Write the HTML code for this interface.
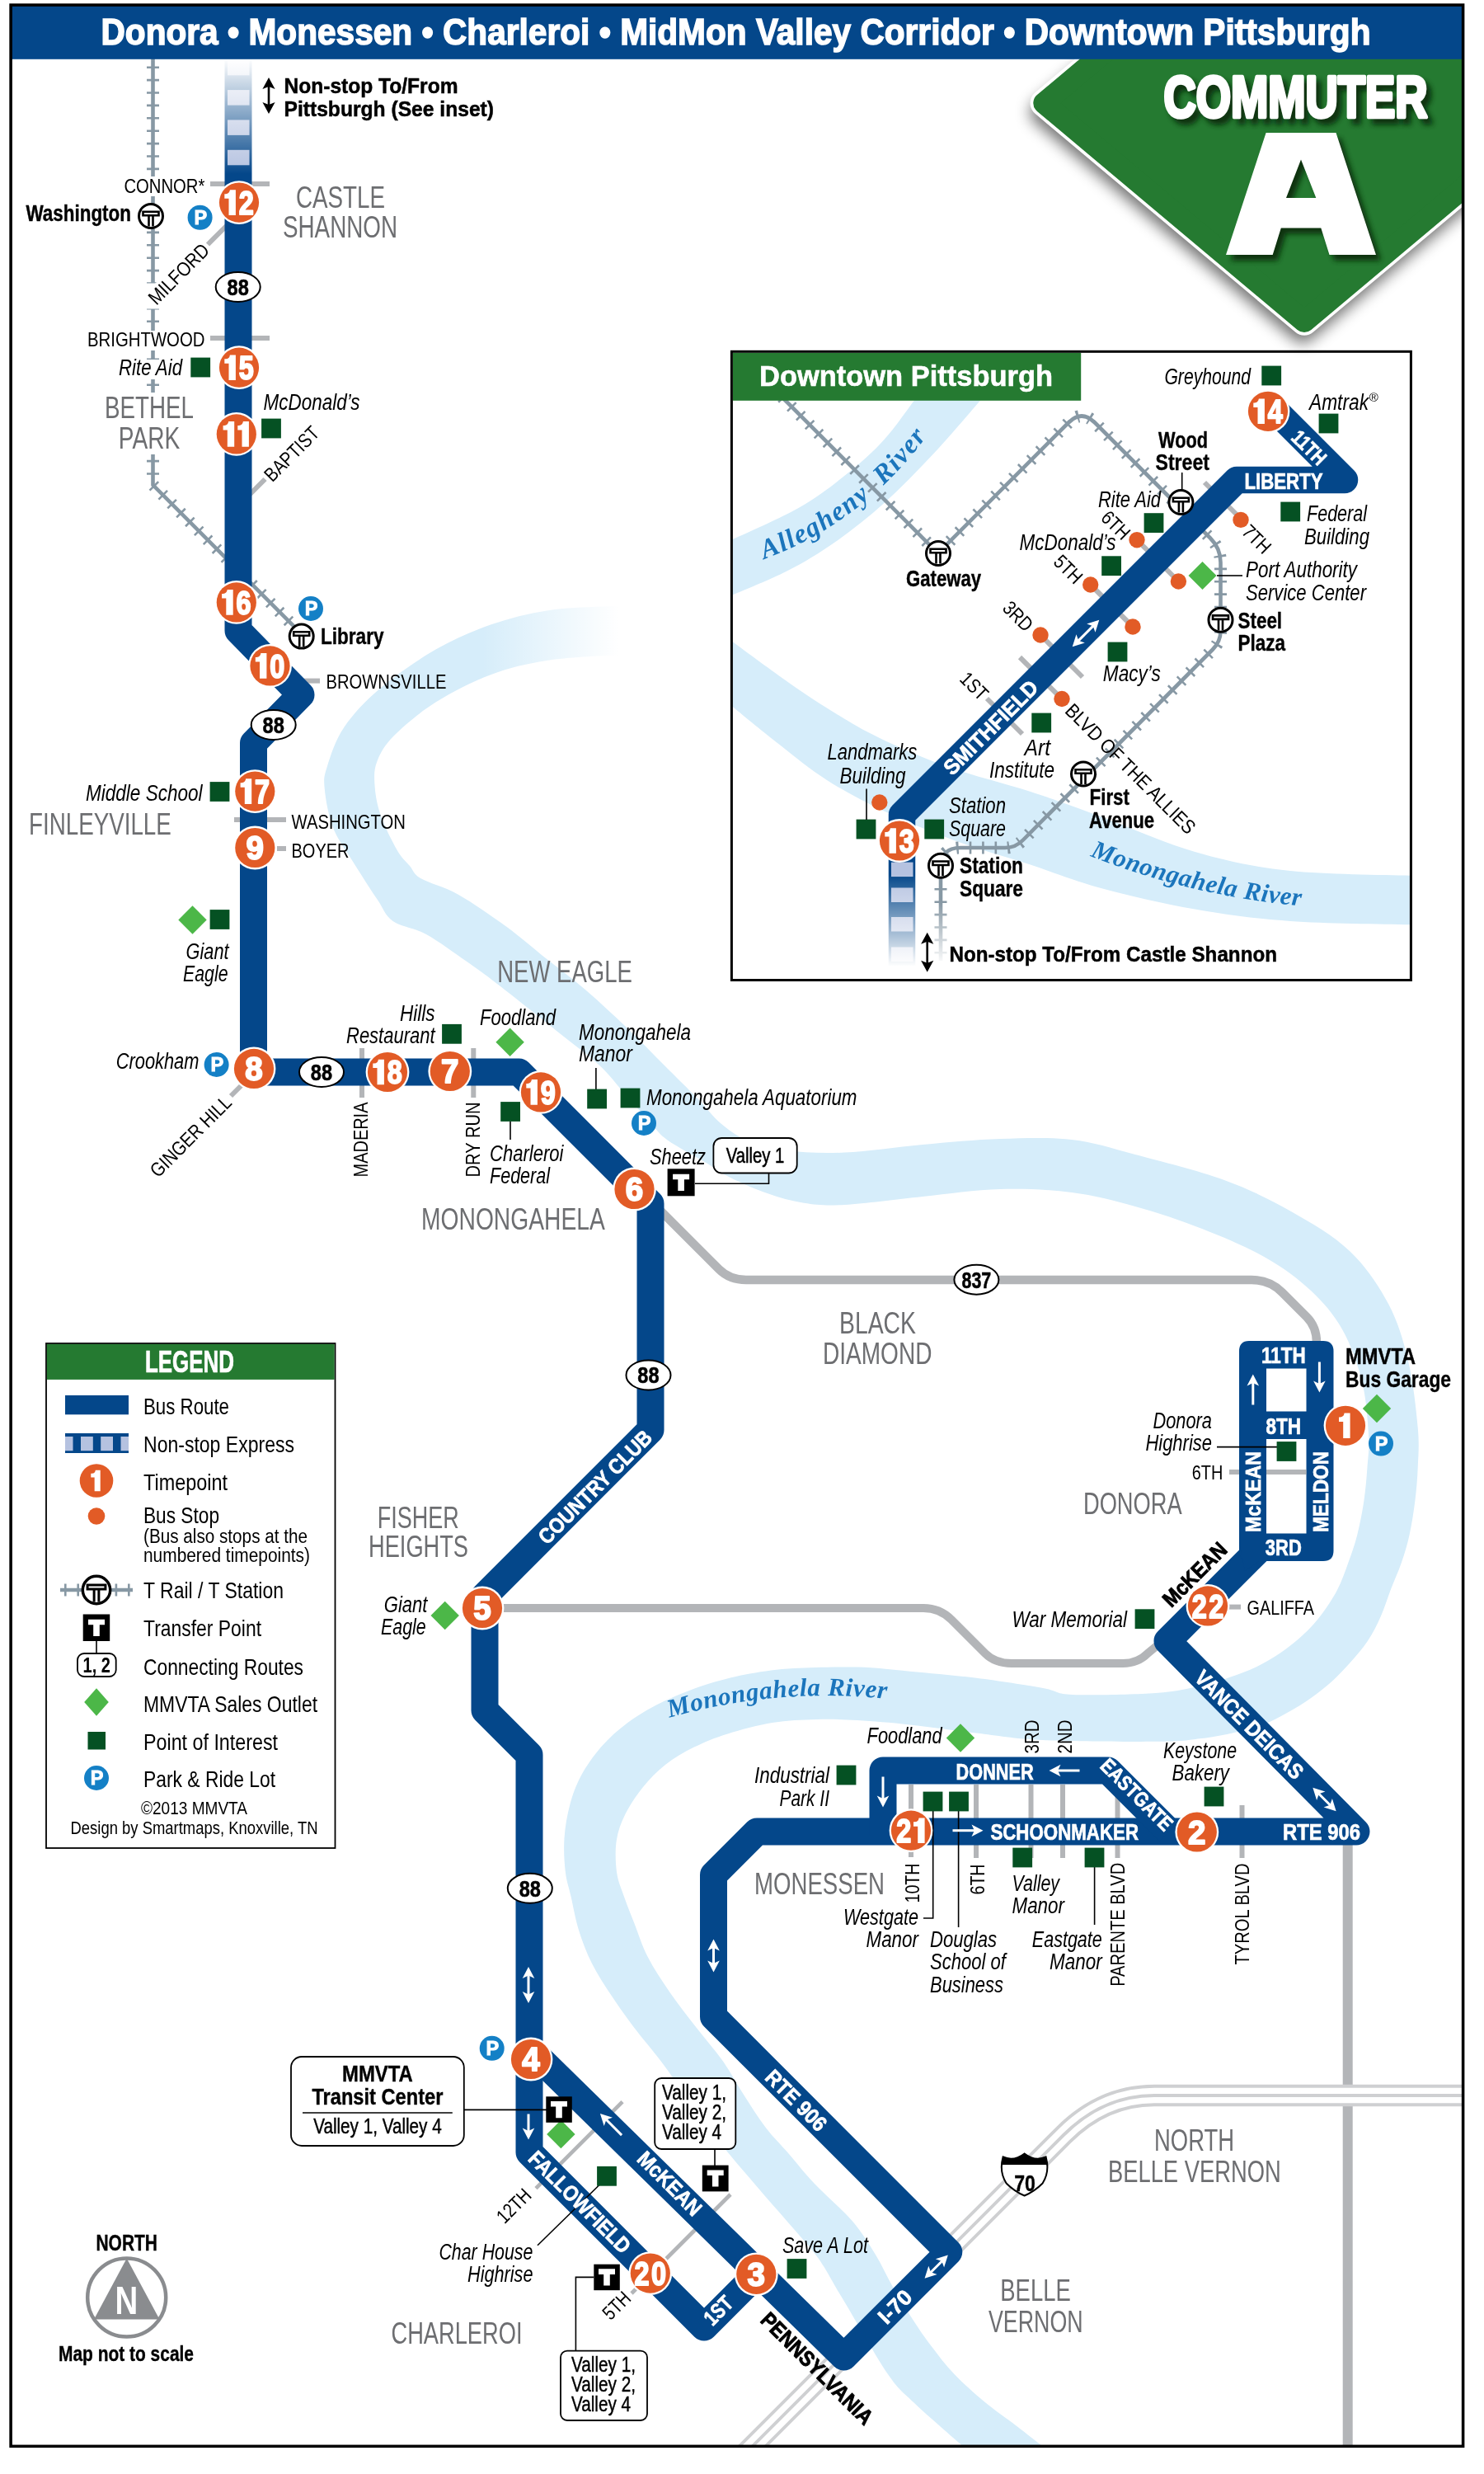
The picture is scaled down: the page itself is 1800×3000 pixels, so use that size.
<!DOCTYPE html>
<html><head><meta charset="utf-8"><title>Commuter A</title>
<style>html,body{margin:0;padding:0;background:#fff}svg{display:block;will-change:transform}text{white-space:pre}</style>
</head><body>
<svg width="1800" height="3000" viewBox="0 0 1800 3000">
<defs>
<linearGradient id="fadeR" x1="0" x2="1" y1="0" y2="0"><stop offset="0" stop-color="#fff" stop-opacity="0"/><stop offset="1" stop-color="#fff" stop-opacity="1"/></linearGradient>
<linearGradient id="fadeUp" x1="0" x2="0" y1="1" y2="0"><stop offset="0" stop-color="#fff" stop-opacity="0"/><stop offset="1" stop-color="#fff" stop-opacity="1"/></linearGradient>
<linearGradient id="fadeDn" x1="0" x2="0" y1="0" y2="1"><stop offset="0" stop-color="#fff" stop-opacity="0"/><stop offset="1" stop-color="#fff" stop-opacity="1"/></linearGradient>
<filter id="sh" x="-20%" y="-20%" width="140%" height="150%"><feGaussianBlur stdDeviation="9"/></filter>
<filter id="sh2" x="-20%" y="-20%" width="140%" height="140%"><feGaussianBlur stdDeviation="3"/></filter>
<clipPath id="frame"><rect x="13.5" y="71" width="1760" height="2894"/></clipPath>
<clipPath id="insetclip"><rect x="888" y="427.5" width="823" height="760.5"/></clipPath>
</defs>
<rect width="1800" height="3000" fill="#fff"/>
<g clip-path="url(#frame)">
<path d="M790,735 C780.1,735.1 751.7,734.5 730.6,735.4 C709.5,736.3 685.7,736.8 663.2,740.4 C640.7,744 618.2,749.4 595.8,757.3 C573.3,765.2 551,774.7 528.5,787.6 C506,800.5 479.5,819.1 461,834.8 C442.5,850.5 428,866.3 417.3,882 C406.6,897.7 400.9,916.7 397,929 C393.1,941.3 392.6,943.6 393.7,956 C394.8,968.4 398.2,988.6 403.8,1003.2 C409.4,1017.8 418.4,1029.1 427.4,1043.7 C436.4,1058.3 449.5,1078.6 457.7,1090.8 C465.9,1103 466.7,1110 476.6,1117 C486.5,1124 502.2,1124.9 517,1133 C531.8,1141.1 551.5,1155.9 565.5,1165.6 C579.5,1175.3 587.5,1181.2 601,1191.4 C614.5,1201.6 633.4,1216.7 646.4,1227 C659.4,1237.3 665.4,1242.3 678.8,1253 C692.2,1263.7 713.8,1279.6 726.7,1291.4 C739.6,1303.2 745.5,1312.2 756,1324 C766.5,1335.8 780.5,1352.3 789.4,1362 C798.3,1371.7 798.4,1374.4 809.6,1382.4 C820.8,1390.4 843.8,1402.4 856.5,1410 C869.2,1417.6 873.6,1421.8 886,1428 C898.4,1434.2 915.8,1441.9 930.6,1447 C945.4,1452.1 959.4,1456.4 975,1458.7 C990.6,1461 1000.5,1462.3 1024.5,1461 C1048.5,1459.7 1087.6,1454.2 1119,1451 C1150.4,1447.8 1182.8,1442.8 1213,1442 C1243.2,1441.2 1272.7,1442.5 1300,1446 C1327.3,1449.5 1350.7,1455.7 1377,1463 C1403.3,1470.3 1431.7,1479.7 1458,1490 C1484.3,1500.3 1513,1512.5 1535,1525 C1557,1537.5 1574.5,1550.5 1590,1565 C1605.5,1579.5 1617.7,1593.7 1628,1612 C1638.3,1630.3 1646.7,1653.7 1652,1675 C1657.3,1696.3 1658.9,1722.5 1660,1740 C1661.1,1757.5 1659.4,1766.6 1658.4,1780 C1657.5,1793.4 1656.3,1806.9 1654.3,1820.4 C1652.3,1833.9 1649.4,1848.5 1646.3,1860.9 C1643.2,1873.3 1639.5,1883.4 1635.5,1894.6 C1631.5,1905.8 1627.7,1917.1 1622,1928 C1616.3,1938.9 1608.2,1950.9 1601.2,1960 C1594.2,1969.1 1588.1,1975.5 1580.2,1982.8 C1572.3,1990.1 1563.3,1997.4 1553.9,2003.8 C1544.5,2010.2 1534.2,2016.3 1524,2021.3 C1513.8,2026.3 1503.7,2029.8 1492.6,2033.6 C1481.5,2037.4 1472.6,2040.8 1457.5,2044 C1442.4,2047.2 1428.1,2051.2 1402,2053 C1375.9,2054.8 1323.8,2056 1301,2055 C1278.2,2054 1284.4,2050.4 1265,2047 C1245.6,2043.6 1211.3,2038.2 1184.4,2034.8 C1157.5,2031.4 1127.6,2028.9 1103.5,2026.7 C1079.4,2024.5 1063.3,2022.2 1040,2021.6 C1016.7,2021 985.2,2021.7 963.5,2023 C941.8,2024.3 927.5,2026.3 909.5,2029.6 C891.5,2032.9 873.6,2037.2 855.6,2043 C837.6,2048.8 817.4,2057 801.7,2064.7 C786,2072.4 773.4,2080 761.3,2089 C749.2,2098 738.4,2107.8 729,2118.6 C719.6,2129.4 711,2141.9 704.7,2153.6 C698.4,2165.3 694.6,2176.1 691.2,2188.7 C687.8,2201.3 685.4,2215.5 684.5,2229 C683.6,2242.5 684.4,2257.7 685.8,2269.5 C687.1,2281.3 689.9,2288.2 692.6,2300 C695.3,2311.8 697.8,2326.9 702,2340.4 C706.2,2353.9 711.3,2367.6 718,2381 C724.7,2394.4 733.8,2408 742.4,2421 C751,2434 759.5,2445.9 769.4,2459 C779.3,2472.1 789.9,2483.8 801.7,2499.5 C813.5,2515.2 827.3,2535.6 840,2553 C852.7,2570.4 864.3,2586.8 878,2604 C891.7,2621.2 908,2639.6 922,2656 C936,2672.4 950.4,2688.4 962.3,2702.3 C974.2,2716.2 983.5,2725.6 993.3,2739.5 C1003.1,2753.4 1007.2,2762.8 1021.2,2786 C1035.2,2809.2 1062.5,2857.8 1077,2879 C1091.5,2900.2 1097.7,2902.7 1108,2913 C1118.3,2923.3 1129.7,2932.7 1139,2941 C1148.3,2949.3 1154.5,2954.5 1163.8,2962.7 C1173.1,2970.9 1189.8,2985.4 1195,2990 L1295,2990 C1289.2,2985.4 1270.4,2970.9 1259.9,2962.7 C1249.4,2954.5 1242.8,2949.3 1232,2941 C1221.2,2932.7 1207.2,2923.3 1194.8,2913 C1182.4,2902.7 1168.4,2890.3 1157.6,2879 C1146.8,2867.7 1138,2855.8 1129.7,2844.9 C1121.4,2834.1 1115.8,2825.8 1108,2813.9 C1100.2,2802 1091,2787 1083.2,2773.6 C1075.5,2760.2 1069.8,2746.7 1061.5,2733.3 C1053.2,2719.9 1045.8,2707.2 1033.6,2693 C1021.3,2678.8 1000.8,2661.5 988,2648 C975.2,2634.5 966.8,2623.3 957,2612 C947.2,2600.7 938.2,2592.3 929,2580.3 C919.8,2568.3 910.7,2553.5 902,2540 C893.3,2526.5 886.5,2513 877,2499.5 C867.5,2486 855.6,2472.9 844.9,2459 C834.1,2445.1 822.4,2430.4 812.5,2416 C802.6,2401.6 792.8,2386.8 785.6,2372.8 C778.4,2358.9 774.2,2344.4 769.4,2332.3 C764.6,2320.2 760.6,2310.4 757,2300 C753.4,2289.6 749.5,2281.4 748,2270 C746.5,2258.6 746,2243.6 747.8,2231.8 C749.6,2220.1 753.2,2210.3 758.6,2199.5 C764,2188.7 771.9,2176.9 780,2167 C788.1,2157.1 796.7,2148.1 807,2140 C817.3,2131.9 829.4,2124.9 842,2118.6 C854.6,2112.3 866.9,2107.3 882.6,2102.4 C898.4,2097.5 918.5,2091.9 936.5,2089 C954.5,2086.1 973.1,2085.5 990.4,2085 C1007.6,2084.5 1021.1,2084.9 1040,2086 C1058.8,2087.1 1079.5,2088.8 1103.5,2091.4 C1127.5,2094 1157.1,2098.4 1184,2101.5 C1210.9,2104.6 1227.8,2108.3 1265,2110 C1302.2,2111.7 1374.9,2112.1 1407,2111.8 C1439.1,2111.5 1443.2,2109.6 1457.5,2108 C1471.8,2106.4 1480.9,2104.5 1492.6,2102 C1504.3,2099.5 1517.4,2096.5 1527.6,2093 C1537.8,2089.5 1544.6,2085.8 1553.9,2080.9 C1563.2,2076 1574.1,2069.8 1583.7,2063.4 C1593.3,2057 1603,2049.9 1611.7,2042.3 C1620.5,2034.7 1628.3,2026.5 1636.2,2017.8 C1644.1,2009 1652.6,1999.4 1659,1989.8 C1665.4,1980.2 1670.2,1970.3 1674.8,1960 C1679.4,1949.7 1682.5,1938.9 1686.7,1928 C1690.9,1917.1 1696.2,1905.8 1700,1894.6 C1703.8,1883.4 1706.9,1873.3 1709.6,1860.9 C1712.3,1848.5 1714.6,1833.9 1716.3,1820.4 C1718,1806.9 1719.1,1794.9 1719.7,1780 C1720.3,1765.1 1721.7,1752.7 1719.7,1731 C1717.8,1709.3 1714,1675 1708,1650 C1702,1625 1695.8,1603.2 1684,1581 C1672.2,1558.8 1656.7,1535.7 1637,1517 C1617.3,1498.3 1591.3,1483.3 1566,1469 C1540.7,1454.7 1516.5,1442.5 1485,1431 C1453.5,1419.5 1407.8,1408.2 1377,1400 C1346.2,1391.8 1327.3,1385.2 1300,1382 C1272.7,1378.8 1243.2,1380 1213,1381 C1182.8,1382 1150.4,1385.2 1119,1388 C1087.6,1390.8 1052,1396.4 1024.5,1397.6 C997,1398.8 973.7,1397.6 953.8,1395 C933.9,1392.4 918.3,1387.5 905,1382 C891.7,1376.5 883.8,1370.3 874,1362 C864.2,1353.7 857.5,1343.8 846,1332 C834.5,1320.2 819.3,1305.3 805,1291 C790.7,1276.7 775.7,1261 760,1246 C744.3,1231 727.3,1215 711,1201 C694.7,1187 678.2,1174.9 662,1162 C645.8,1149.1 631.7,1136.4 614,1123.5 C596.3,1110.6 573,1094.4 555.8,1084.7 C538.6,1075 520.4,1071.1 510.6,1065.3 C500.8,1059.5 501.9,1055.8 497,1050 C492.1,1044.2 487.3,1040.8 481.3,1030.2 C475.3,1019.6 465.5,999.9 461,986.4 C456.5,972.9 454.9,960 454.3,949.3 C453.8,938.6 453.8,931.9 457.7,922.4 C461.6,912.9 466.2,903.8 478,892 C489.8,880.2 508.9,863.9 528.5,851.6 C548.1,839.3 573.3,826.4 595.8,818 C618.2,809.6 637.9,805 663.2,801 C688.5,797 726.4,795.5 747.5,794.3 C768.6,793.1 782.9,794 790,794Z" fill="#d6edfa"/>
<rect x="585" y="725" width="165" height="110" fill="url(#fadeR)"/>
<rect x="749" y="725" width="50" height="110" fill="#fff"/>
<path d="M1634.7,2221 L1634.7,2980" stroke="#b3b5b8" stroke-width="12" fill="none"/>
<path d="M884,2995 L1290,2589 Q1338,2541 1400,2541 L1790,2541" stroke="#cfd0d2" stroke-width="26.5" fill="none"/>
<path d="M884,2995 L1290,2589 Q1338,2541 1400,2541 L1790,2541" stroke="#fff" stroke-width="18.7" fill="none"/>
<path d="M884,2995 L1290,2589 Q1338,2541 1400,2541 L1790,2541" stroke="#cfd0d2" stroke-width="3.9" fill="none"/>
<path d="M795,1462 L872,1539 Q885,1552 905,1552 L1518,1552 Q1540,1552 1555,1567 L1585,1597 Q1597,1609 1597,1628 L1597,1650" stroke="#b3b5b8" stroke-width="10.4" fill="none"/>
<path d="M585,1950 L1120,1950 Q1140,1950 1154,1964 L1195,2005 Q1207,2017 1227,2017 L1362,2017 Q1380,2017 1392,2005 L1420,1982" stroke="#b3b5b8" stroke-width="10" fill="none"/>
<path d="M185.5,60 L185.5,588 L366,769" stroke="#8798a4" stroke-width="4.6" fill="none" />
<path d="M185.5,60 L185.5,588 L366,769" stroke="#8798a4" stroke-width="15" stroke-dasharray="2.6 12.8" stroke-dashoffset="-5" fill="none" />
<rect x="148" y="214" width="104" height="24" fill="#fff"/>
<rect x="104" y="401" width="148" height="24" fill="#fff"/>
<rect x="172" y="436" width="50" height="24" fill="#fff"/>
<path d="M180,352 L190,362 L258,294 L248,284 Z" fill="#fff"/>
<rect x="174" y="343.5" width="24" height="31" fill="#fff"/>
<rect x="125" y="476" width="115" height="75" fill="#fff"/>
<path d="M255,223 L327,223" stroke="#b3b5b8" stroke-width="6" fill="none"/>
<path d="M252,296.5 L275,273.5" stroke="#b3b5b8" stroke-width="6" fill="none"/>
<path d="M255,410 L327,410" stroke="#b3b5b8" stroke-width="6" fill="none"/>
<path d="M303,599.5 L321.5,581" stroke="#b3b5b8" stroke-width="6" fill="none"/>
<path d="M364,825.6 L388,825.6" stroke="#b3b5b8" stroke-width="6" fill="none"/>
<path d="M284,994 L347,994" stroke="#b3b5b8" stroke-width="6" fill="none"/>
<path d="M336,1029 L347,1029" stroke="#b3b5b8" stroke-width="6" fill="none"/>
<path d="M280,1329 L296,1313" stroke="#b3b5b8" stroke-width="6" fill="none"/>
<path d="M439,1271 L439,1331" stroke="#b3b5b8" stroke-width="6" fill="none"/>
<path d="M574.3,1271 L574.3,1331" stroke="#b3b5b8" stroke-width="6" fill="none"/>
<path d="M1491,1785 L1585,1785" stroke="#b3b5b8" stroke-width="6" fill="none"/>
<path d="M1491,1948.6 L1505,1948.6" stroke="#b3b5b8" stroke-width="6" fill="none"/>
<path d="M1105,2164 L1105,2252" stroke="#b3b5b8" stroke-width="6" fill="none"/>
<path d="M1184,2164 L1184,2253" stroke="#b3b5b8" stroke-width="6" fill="none"/>
<path d="M1250.5,2164 L1250.5,2253" stroke="#b3b5b8" stroke-width="6" fill="none"/>
<path d="M1289,2164 L1289,2253" stroke="#b3b5b8" stroke-width="6" fill="none"/>
<path d="M1355.5,2172 L1355.5,2253" stroke="#b3b5b8" stroke-width="6" fill="none"/>
<path d="M1506.5,2189 L1506.5,2253" stroke="#b3b5b8" stroke-width="6" fill="none"/>
<path d="M755,2548.7 L650,2653.7" stroke="#b3b5b8" stroke-width="4.6" fill="none"/>
<path d="M886,2661 L800,2747" stroke="#b3b5b8" stroke-width="4.6" fill="none"/>
<path d="M775,2772 L766,2781" stroke="#b3b5b8" stroke-width="4.6" fill="none"/>
<path d="M289,60 L289,764.8 L365,842.5 L307.5,901 L307.5,1300 L629.5,1300 L789,1459.5 L789,1461 L789,1734 L588,1935 L588,2074 L642,2128 L642,2610 L854,2822 L920,2756" stroke="#04478a" stroke-width="33" fill="none" stroke-linejoin="round" stroke-linecap="butt"/>
<path d="M642,2484 L1023.5,2858 L1150.8,2730.8 L865.5,2445.5 L865.5,2273.5 L918,2221 L1645,2221 L1416,1990 L1527,1879" stroke="#04478a" stroke-width="33" fill="none" stroke-linejoin="round" stroke-linecap="butt"/>
<path d="M1071,2225 L1071,2147 L1344,2147 L1418,2221" stroke="#04478a" stroke-width="33" fill="none" stroke-linejoin="round" stroke-linecap="butt"/>
<path d="M1515,1626 H1605 Q1617.5,1626 1617.5,1638.5 V1880.5 Q1617.5,1893 1605,1893 H1515.5 Q1503,1893 1503,1880.5 V1638.5 Q1503,1626 1515,1626 Z M1536,1659.5 V1711.5 H1584.5 V1659.5 Z M1536,1745 V1859.5 H1584.5 V1745 Z" fill="#04478a" fill-rule="evenodd"/>
<path d="M1536,1785 L1584.5,1785" stroke="#b3b5b8" stroke-width="6" fill="none"/>
<path d="M1503,1870 L1527,1870 L1527,1893 L1510,1905 Z" fill="#04478a"/>
<rect x="276" y="72.8" width="26.5" height="18.5" fill="#b5c2e0"/>
<rect x="276" y="109.1" width="26.5" height="18.5" fill="#b5c2e0"/>
<rect x="276" y="145.4" width="26.5" height="18.5" fill="#b5c2e0"/>
<rect x="276" y="181.8" width="26.5" height="18.5" fill="#b5c2e0"/>
<rect x="270" y="71" width="38" height="140" fill="url(#fadeUp)"/>
</g>
<g transform="translate(326,116) rotate(90)"><path d="M-11.5,0 H11.5" stroke="#000" stroke-width="2.6" fill="none"/>
<path d="M22,0 L8,-7.6 L11,0 L8,7.6 Z" fill="#000"/>
<path d="M-22,0 L-8,-7.6 L-11,0 L-8,7.6 Z" fill="#000"/>
</g>
<text transform="translate(344.5,112.8)" font-family='"Liberation Sans", sans-serif' font-size="26.5" font-weight="bold" font-style="normal" fill="#000" text-anchor="start" textLength="211" lengthAdjust="spacingAndGlyphs" stroke="#000" stroke-width="0.5">Non-stop To/From</text>
<text transform="translate(344.5,140.7)" font-family='"Liberation Sans", sans-serif' font-size="26.5" font-weight="bold" font-style="normal" fill="#000" text-anchor="start" textLength="254.5" lengthAdjust="spacingAndGlyphs" stroke="#000" stroke-width="0.5">Pittsburgh (See inset)</text>
<text transform="translate(150.4,233.5)" font-family='"Liberation Sans", sans-serif' font-size="24" font-weight="normal" font-style="normal" fill="#000" text-anchor="start" textLength="98" lengthAdjust="spacingAndGlyphs">CONNOR*</text>
<text transform="translate(216.5,332) rotate(-45)" y="8.6" font-family='"Liberation Sans", sans-serif' font-size="24" font-weight="normal" font-style="normal" fill="#000" text-anchor="middle" textLength="93" lengthAdjust="spacingAndGlyphs">MILFORD</text>
<text transform="translate(106,420)" font-family='"Liberation Sans", sans-serif' font-size="24" font-weight="normal" font-style="normal" fill="#000" text-anchor="start" textLength="142.5" lengthAdjust="spacingAndGlyphs">BRIGHTWOOD</text>
<text transform="translate(353.5,550) rotate(-45)" y="8.6" font-family='"Liberation Sans", sans-serif' font-size="24" font-weight="normal" font-style="normal" fill="#000" text-anchor="middle" textLength="83" lengthAdjust="spacingAndGlyphs">BAPTIST</text>
<text transform="translate(395.4,835.3)" font-family='"Liberation Sans", sans-serif' font-size="24" font-weight="normal" font-style="normal" fill="#000" text-anchor="start" textLength="146" lengthAdjust="spacingAndGlyphs">BROWNSVILLE</text>
<text transform="translate(353.5,1004.5)" font-family='"Liberation Sans", sans-serif' font-size="24" font-weight="normal" font-style="normal" fill="#000" text-anchor="start" textLength="138.5" lengthAdjust="spacingAndGlyphs">WASHINGTON</text>
<text transform="translate(353.5,1039.7)" font-family='"Liberation Sans", sans-serif' font-size="24" font-weight="normal" font-style="normal" fill="#000" text-anchor="start" textLength="70" lengthAdjust="spacingAndGlyphs">BOYER</text>
<text transform="translate(231,1377.7) rotate(-45)" y="8.6" font-family='"Liberation Sans", sans-serif' font-size="24" font-weight="normal" font-style="normal" fill="#000" text-anchor="middle" textLength="128" lengthAdjust="spacingAndGlyphs">GINGER HILL</text>
<text transform="translate(437.8,1382) rotate(-90)" y="8.6" font-family='"Liberation Sans", sans-serif' font-size="24" font-weight="normal" font-style="normal" fill="#000" text-anchor="middle" textLength="91" lengthAdjust="spacingAndGlyphs">MADERIA</text>
<text transform="translate(573,1382) rotate(-90)" y="8.6" font-family='"Liberation Sans", sans-serif' font-size="24" font-weight="normal" font-style="normal" fill="#000" text-anchor="middle" textLength="91" lengthAdjust="spacingAndGlyphs">DRY RUN</text>
<text transform="translate(1445.8,1794)" font-family='"Liberation Sans", sans-serif' font-size="24" font-weight="normal" font-style="normal" fill="#000" text-anchor="start" textLength="37.6" lengthAdjust="spacingAndGlyphs">6TH</text>
<text transform="translate(1512.5,1957.7)" font-family='"Liberation Sans", sans-serif' font-size="24" font-weight="normal" font-style="normal" fill="#000" text-anchor="start" textLength="81.5" lengthAdjust="spacingAndGlyphs">GALIFFA</text>
<text transform="translate(1251.7,2106) rotate(-90)" y="8.6" font-family='"Liberation Sans", sans-serif' font-size="24" font-weight="normal" font-style="normal" fill="#000" text-anchor="middle" textLength="41" lengthAdjust="spacingAndGlyphs">3RD</text>
<text transform="translate(1291,2106) rotate(-90)" y="8.6" font-family='"Liberation Sans", sans-serif' font-size="24" font-weight="normal" font-style="normal" fill="#000" text-anchor="middle" textLength="41" lengthAdjust="spacingAndGlyphs">2ND</text>
<text transform="translate(1106,2283.5) rotate(-90)" y="8.6" font-family='"Liberation Sans", sans-serif' font-size="24" font-weight="normal" font-style="normal" fill="#000" text-anchor="middle" textLength="48" lengthAdjust="spacingAndGlyphs">10TH</text>
<text transform="translate(1185,2279) rotate(-90)" y="8.6" font-family='"Liberation Sans", sans-serif' font-size="24" font-weight="normal" font-style="normal" fill="#000" text-anchor="middle" textLength="37" lengthAdjust="spacingAndGlyphs">6TH</text>
<text transform="translate(1355.5,2333.8) rotate(-90)" y="8.6" font-family='"Liberation Sans", sans-serif' font-size="24" font-weight="normal" font-style="normal" fill="#000" text-anchor="middle" textLength="150" lengthAdjust="spacingAndGlyphs">PARENTE BLVD</text>
<text transform="translate(1506.5,2321) rotate(-90)" y="8.6" font-family='"Liberation Sans", sans-serif' font-size="24" font-weight="normal" font-style="normal" fill="#000" text-anchor="middle" textLength="123" lengthAdjust="spacingAndGlyphs">TYROL BLVD</text>
<text transform="translate(623,2674.5) rotate(-45)" y="8.6" font-family='"Liberation Sans", sans-serif' font-size="24" font-weight="normal" font-style="normal" fill="#000" text-anchor="middle" textLength="48" lengthAdjust="spacingAndGlyphs">12TH</text>
<text transform="translate(747.5,2795.4) rotate(-45)" y="8.6" font-family='"Liberation Sans", sans-serif' font-size="24" font-weight="normal" font-style="normal" fill="#000" text-anchor="middle" textLength="37" lengthAdjust="spacingAndGlyphs">5TH</text>
<text transform="translate(413,251.6)" font-family='"Liberation Sans", sans-serif' font-size="36" font-weight="normal" font-style="normal" fill="#6d6e71" text-anchor="middle" textLength="108" lengthAdjust="spacingAndGlyphs">CASTLE</text>
<text transform="translate(412.5,288)" font-family='"Liberation Sans", sans-serif' font-size="36" font-weight="normal" font-style="normal" fill="#6d6e71" text-anchor="middle" textLength="139" lengthAdjust="spacingAndGlyphs">SHANNON</text>
<text transform="translate(181,507)" font-family='"Liberation Sans", sans-serif' font-size="36" font-weight="normal" font-style="normal" fill="#6d6e71" text-anchor="middle" textLength="108" lengthAdjust="spacingAndGlyphs">BETHEL</text>
<text transform="translate(181,544)" font-family='"Liberation Sans", sans-serif' font-size="36" font-weight="normal" font-style="normal" fill="#6d6e71" text-anchor="middle" textLength="74.5" lengthAdjust="spacingAndGlyphs">PARK</text>
<text transform="translate(121.4,1012.4)" font-family='"Liberation Sans", sans-serif' font-size="36" font-weight="normal" font-style="normal" fill="#6d6e71" text-anchor="middle" textLength="172.8" lengthAdjust="spacingAndGlyphs">FINLEYVILLE</text>
<text transform="translate(685,1191.3)" font-family='"Liberation Sans", sans-serif' font-size="36" font-weight="normal" font-style="normal" fill="#6d6e71" text-anchor="middle" textLength="163.6" lengthAdjust="spacingAndGlyphs">NEW EAGLE</text>
<text transform="translate(622.4,1491)" font-family='"Liberation Sans", sans-serif' font-size="36" font-weight="normal" font-style="normal" fill="#6d6e71" text-anchor="middle" textLength="222.8" lengthAdjust="spacingAndGlyphs">MONONGAHELA</text>
<text transform="translate(1064.5,1617)" font-family='"Liberation Sans", sans-serif' font-size="36" font-weight="normal" font-style="normal" fill="#6d6e71" text-anchor="middle" textLength="93" lengthAdjust="spacingAndGlyphs">BLACK</text>
<text transform="translate(1064.2,1653.6)" font-family='"Liberation Sans", sans-serif' font-size="36" font-weight="normal" font-style="normal" fill="#6d6e71" text-anchor="middle" textLength="132.4" lengthAdjust="spacingAndGlyphs">DIAMOND</text>
<text transform="translate(507.2,1853)" font-family='"Liberation Sans", sans-serif' font-size="36" font-weight="normal" font-style="normal" fill="#6d6e71" text-anchor="middle" textLength="99" lengthAdjust="spacingAndGlyphs">FISHER</text>
<text transform="translate(507.5,1888)" font-family='"Liberation Sans", sans-serif' font-size="36" font-weight="normal" font-style="normal" fill="#6d6e71" text-anchor="middle" textLength="121" lengthAdjust="spacingAndGlyphs">HEIGHTS</text>
<text transform="translate(1373.8,1836.4)" font-family='"Liberation Sans", sans-serif' font-size="36" font-weight="normal" font-style="normal" fill="#6d6e71" text-anchor="middle" textLength="119.7" lengthAdjust="spacingAndGlyphs">DONORA</text>
<text transform="translate(994,2297.4)" font-family='"Liberation Sans", sans-serif' font-size="36" font-weight="normal" font-style="normal" fill="#6d6e71" text-anchor="middle" textLength="158" lengthAdjust="spacingAndGlyphs">MONESSEN</text>
<text transform="translate(554,2841.5)" font-family='"Liberation Sans", sans-serif' font-size="36" font-weight="normal" font-style="normal" fill="#6d6e71" text-anchor="middle" textLength="159" lengthAdjust="spacingAndGlyphs">CHARLEROI</text>
<text transform="translate(1448.5,2608)" font-family='"Liberation Sans", sans-serif' font-size="36" font-weight="normal" font-style="normal" fill="#6d6e71" text-anchor="middle" textLength="97" lengthAdjust="spacingAndGlyphs">NORTH</text>
<text transform="translate(1448.8,2645.6)" font-family='"Liberation Sans", sans-serif' font-size="36" font-weight="normal" font-style="normal" fill="#6d6e71" text-anchor="middle" textLength="209.7" lengthAdjust="spacingAndGlyphs">BELLE VERNON</text>
<text transform="translate(1256,2790)" font-family='"Liberation Sans", sans-serif' font-size="36" font-weight="normal" font-style="normal" fill="#6d6e71" text-anchor="middle" textLength="85.5" lengthAdjust="spacingAndGlyphs">BELLE</text>
<text transform="translate(1256.3,2827.5)" font-family='"Liberation Sans", sans-serif' font-size="36" font-weight="normal" font-style="normal" fill="#6d6e71" text-anchor="middle" textLength="114.6" lengthAdjust="spacingAndGlyphs">VERNON</text>
<text transform="translate(31.5,268)" font-family='"Liberation Sans", sans-serif' font-size="27" font-weight="bold" font-style="normal" fill="#000" text-anchor="start" textLength="127.5" lengthAdjust="spacingAndGlyphs" stroke="#000" stroke-width="0.4">Washington</text>
<text transform="translate(389,780.7)" font-family='"Liberation Sans", sans-serif' font-size="27" font-weight="bold" font-style="normal" fill="#000" text-anchor="start" textLength="76.5" lengthAdjust="spacingAndGlyphs" stroke="#000" stroke-width="0.4">Library</text>
<text transform="translate(1632,1653.6)" font-family='"Liberation Sans", sans-serif' font-size="27" font-weight="bold" font-style="normal" fill="#000" text-anchor="start" textLength="85" lengthAdjust="spacingAndGlyphs" stroke="#000" stroke-width="0.4">MMVTA</text>
<text transform="translate(1632,1682)" font-family='"Liberation Sans", sans-serif' font-size="27" font-weight="bold" font-style="normal" fill="#000" text-anchor="start" textLength="128" lengthAdjust="spacingAndGlyphs" stroke="#000" stroke-width="0.4">Bus Garage</text>
<text transform="translate(144,455)" font-family='"Liberation Sans", sans-serif' font-size="27" font-weight="normal" font-style="italic" fill="#000" text-anchor="start" textLength="77" lengthAdjust="spacingAndGlyphs">Rite Aid</text>
<text transform="translate(319.6,497)" font-family='"Liberation Sans", sans-serif' font-size="27" font-weight="normal" font-style="italic" fill="#000" text-anchor="start" textLength="117" lengthAdjust="spacingAndGlyphs">McDonald’s</text>
<text transform="translate(104,971)" font-family='"Liberation Sans", sans-serif' font-size="27" font-weight="normal" font-style="italic" fill="#000" text-anchor="start" textLength="141.6" lengthAdjust="spacingAndGlyphs">Middle School</text>
<text transform="translate(225.6,1162.8)" font-family='"Liberation Sans", sans-serif' font-size="27" font-weight="normal" font-style="italic" fill="#000" text-anchor="start" textLength="52" lengthAdjust="spacingAndGlyphs">Giant</text>
<text transform="translate(222,1190)" font-family='"Liberation Sans", sans-serif' font-size="27" font-weight="normal" font-style="italic" fill="#000" text-anchor="start" textLength="54.5" lengthAdjust="spacingAndGlyphs">Eagle</text>
<text transform="translate(140.7,1295.9)" font-family='"Liberation Sans", sans-serif' font-size="27" font-weight="normal" font-style="italic" fill="#000" text-anchor="start" textLength="100.7" lengthAdjust="spacingAndGlyphs">Crookham</text>
<text transform="translate(485,1238)" font-family='"Liberation Sans", sans-serif' font-size="27" font-weight="normal" font-style="italic" fill="#000" text-anchor="start" textLength="42.6" lengthAdjust="spacingAndGlyphs">Hills</text>
<text transform="translate(420,1265)" font-family='"Liberation Sans", sans-serif' font-size="27" font-weight="normal" font-style="italic" fill="#000" text-anchor="start" textLength="107.6" lengthAdjust="spacingAndGlyphs">Restaurant</text>
<text transform="translate(582,1242.5)" font-family='"Liberation Sans", sans-serif' font-size="27" font-weight="normal" font-style="italic" fill="#000" text-anchor="start" textLength="92" lengthAdjust="spacingAndGlyphs">Foodland</text>
<text transform="translate(594,1408)" font-family='"Liberation Sans", sans-serif' font-size="27" font-weight="normal" font-style="italic" fill="#000" text-anchor="start" textLength="89.4" lengthAdjust="spacingAndGlyphs">Charleroi</text>
<text transform="translate(594,1435.4)" font-family='"Liberation Sans", sans-serif' font-size="27" font-weight="normal" font-style="italic" fill="#000" text-anchor="start" textLength="73" lengthAdjust="spacingAndGlyphs">Federal</text>
<text transform="translate(702,1260.7)" font-family='"Liberation Sans", sans-serif' font-size="27" font-weight="normal" font-style="italic" fill="#000" text-anchor="start" textLength="136" lengthAdjust="spacingAndGlyphs">Monongahela</text>
<text transform="translate(702,1286.8)" font-family='"Liberation Sans", sans-serif' font-size="27" font-weight="normal" font-style="italic" fill="#000" text-anchor="start" textLength="65" lengthAdjust="spacingAndGlyphs">Manor</text>
<text transform="translate(784,1339.5)" font-family='"Liberation Sans", sans-serif' font-size="27" font-weight="normal" font-style="italic" fill="#000" text-anchor="start" textLength="255.5" lengthAdjust="spacingAndGlyphs">Monongahela Aquatorium</text>
<text transform="translate(788,1412)" font-family='"Liberation Sans", sans-serif' font-size="27" font-weight="normal" font-style="italic" fill="#000" text-anchor="start" textLength="68" lengthAdjust="spacingAndGlyphs">Sheetz</text>
<text transform="translate(465.7,1954.8)" font-family='"Liberation Sans", sans-serif' font-size="27" font-weight="normal" font-style="italic" fill="#000" text-anchor="start" textLength="52.8" lengthAdjust="spacingAndGlyphs">Giant</text>
<text transform="translate(462,1982)" font-family='"Liberation Sans", sans-serif' font-size="27" font-weight="normal" font-style="italic" fill="#000" text-anchor="start" textLength="54.7" lengthAdjust="spacingAndGlyphs">Eagle</text>
<text transform="translate(1398.5,1731.5)" font-family='"Liberation Sans", sans-serif' font-size="27" font-weight="normal" font-style="italic" fill="#000" text-anchor="start" textLength="71.5" lengthAdjust="spacingAndGlyphs">Donora</text>
<text transform="translate(1389.4,1758.8)" font-family='"Liberation Sans", sans-serif' font-size="27" font-weight="normal" font-style="italic" fill="#000" text-anchor="start" textLength="80.6" lengthAdjust="spacingAndGlyphs">Highrise</text>
<text transform="translate(1227.5,1973)" font-family='"Liberation Sans", sans-serif' font-size="27" font-weight="normal" font-style="italic" fill="#000" text-anchor="start" textLength="139.5" lengthAdjust="spacingAndGlyphs">War Memorial</text>
<text transform="translate(1051.6,2114)" font-family='"Liberation Sans", sans-serif' font-size="27" font-weight="normal" font-style="italic" fill="#000" text-anchor="start" textLength="91" lengthAdjust="spacingAndGlyphs">Foodland</text>
<text transform="translate(1411,2131.8)" font-family='"Liberation Sans", sans-serif' font-size="27" font-weight="normal" font-style="italic" fill="#000" text-anchor="start" textLength="89" lengthAdjust="spacingAndGlyphs">Keystone</text>
<text transform="translate(1421.5,2159)" font-family='"Liberation Sans", sans-serif' font-size="27" font-weight="normal" font-style="italic" fill="#000" text-anchor="start" textLength="69.5" lengthAdjust="spacingAndGlyphs">Bakery</text>
<text transform="translate(915,2162)" font-family='"Liberation Sans", sans-serif' font-size="27" font-weight="normal" font-style="italic" fill="#000" text-anchor="start" textLength="91" lengthAdjust="spacingAndGlyphs">Industrial</text>
<text transform="translate(945.5,2190)" font-family='"Liberation Sans", sans-serif' font-size="27" font-weight="normal" font-style="italic" fill="#000" text-anchor="start" textLength="60.5" lengthAdjust="spacingAndGlyphs">Park II</text>
<text transform="translate(1023,2333.8)" font-family='"Liberation Sans", sans-serif' font-size="27" font-weight="normal" font-style="italic" fill="#000" text-anchor="start" textLength="91" lengthAdjust="spacingAndGlyphs">Westgate</text>
<text transform="translate(1050.5,2361)" font-family='"Liberation Sans", sans-serif' font-size="27" font-weight="normal" font-style="italic" fill="#000" text-anchor="start" textLength="63.5" lengthAdjust="spacingAndGlyphs">Manor</text>
<text transform="translate(1128,2361)" font-family='"Liberation Sans", sans-serif' font-size="27" font-weight="normal" font-style="italic" fill="#000" text-anchor="start" textLength="81" lengthAdjust="spacingAndGlyphs">Douglas</text>
<text transform="translate(1128,2388.4)" font-family='"Liberation Sans", sans-serif' font-size="27" font-weight="normal" font-style="italic" fill="#000" text-anchor="start" textLength="92" lengthAdjust="spacingAndGlyphs">School of</text>
<text transform="translate(1128,2415.7)" font-family='"Liberation Sans", sans-serif' font-size="27" font-weight="normal" font-style="italic" fill="#000" text-anchor="start" textLength="89" lengthAdjust="spacingAndGlyphs">Business</text>
<text transform="translate(1227.5,2292.6)" font-family='"Liberation Sans", sans-serif' font-size="27" font-weight="normal" font-style="italic" fill="#000" text-anchor="start" textLength="57.5" lengthAdjust="spacingAndGlyphs">Valley</text>
<text transform="translate(1227.5,2319.9)" font-family='"Liberation Sans", sans-serif' font-size="27" font-weight="normal" font-style="italic" fill="#000" text-anchor="start" textLength="63.5" lengthAdjust="spacingAndGlyphs">Manor</text>
<text transform="translate(1251.8,2361)" font-family='"Liberation Sans", sans-serif' font-size="27" font-weight="normal" font-style="italic" fill="#000" text-anchor="start" textLength="85" lengthAdjust="spacingAndGlyphs">Eastgate</text>
<text transform="translate(1273,2388.4)" font-family='"Liberation Sans", sans-serif' font-size="27" font-weight="normal" font-style="italic" fill="#000" text-anchor="start" textLength="63.7" lengthAdjust="spacingAndGlyphs">Manor</text>
<text transform="translate(532.4,2739.7)" font-family='"Liberation Sans", sans-serif' font-size="27" font-weight="normal" font-style="italic" fill="#000" text-anchor="start" textLength="114" lengthAdjust="spacingAndGlyphs">Char House</text>
<text transform="translate(567,2767)" font-family='"Liberation Sans", sans-serif' font-size="27" font-weight="normal" font-style="italic" fill="#000" text-anchor="start" textLength="79.5" lengthAdjust="spacingAndGlyphs">Highrise</text>
<text transform="translate(948.9,2732.3)" font-family='"Liberation Sans", sans-serif' font-size="27" font-weight="normal" font-style="italic" fill="#000" text-anchor="start" textLength="104" lengthAdjust="spacingAndGlyphs">Save A Lot</text>
<path d="M619,1359.6 L619,1382" stroke="#000" stroke-width="1.6" fill="none"/>
<path d="M722.9,1295 L722.9,1321" stroke="#000" stroke-width="1.6" fill="none"/>
<path d="M1476,1754.6 L1549,1754.6" stroke="#000" stroke-width="1.6" fill="none"/>
<path d="M1120,2326 L1131.7,2326 L1131.7,2195" stroke="#000" stroke-width="1.6" fill="none"/>
<path d="M1162.6,2195 L1162.6,2337" stroke="#000" stroke-width="1.6" fill="none"/>
<path d="M1327.6,2264 L1327.6,2334" stroke="#000" stroke-width="1.6" fill="none"/>
<path d="M727.7,2648.7 L652,2722.7" stroke="#000" stroke-width="1.6" fill="none"/>
<rect x="231.3" y="433.6" width="23.8" height="23.8" fill="#055123"/>
<rect x="317.1" y="507.6" width="23.8" height="23.8" fill="#055123"/>
<rect x="254.6" y="948.1" width="23.8" height="23.8" fill="#055123"/>
<rect x="254.6" y="1103.1" width="23.8" height="23.8" fill="#055123"/>
<rect x="536.1" y="1241.9" width="23.8" height="23.8" fill="#055123"/>
<rect x="607.2" y="1336.1" width="23.8" height="23.8" fill="#055123"/>
<rect x="712.2" y="1320.6" width="23.8" height="23.8" fill="#055123"/>
<rect x="752.6" y="1319.6" width="23.8" height="23.8" fill="#055123"/>
<rect x="1548.6" y="1748.1" width="23.8" height="23.8" fill="#055123"/>
<rect x="1376.6" y="1951.3" width="23.8" height="23.8" fill="#055123"/>
<rect x="1460.6" y="2166.6" width="23.8" height="23.8" fill="#055123"/>
<rect x="1014.6" y="2140.6" width="23.8" height="23.8" fill="#055123"/>
<rect x="1119.6" y="2172.6" width="23.8" height="23.8" fill="#055123"/>
<rect x="1151.1" y="2172.6" width="23.8" height="23.8" fill="#055123"/>
<rect x="1228.3" y="2240.6" width="23.8" height="23.8" fill="#055123"/>
<rect x="1315.6" y="2240.6" width="23.8" height="23.8" fill="#055123"/>
<rect x="724.1" y="2626.9" width="23.8" height="23.8" fill="#055123"/>
<rect x="954.6" y="2739.1" width="23.8" height="23.8" fill="#055123"/>
<path d="M233.5,1098.3 L250.7,1115.5 L233.5,1132.7 L216.3,1115.5 Z" fill="#4cb748"/>
<path d="M618.6,1246.5 L635.8,1263.7 L618.6,1280.9 L601.4,1263.7 Z" fill="#4cb748"/>
<path d="M539.7,1941.8 L556.9,1959 L539.7,1976.2 L522.5,1959 Z" fill="#4cb748"/>
<path d="M1670,1690.8 L1687.2,1708 L1670,1725.2 L1652.8,1708 Z" fill="#4cb748"/>
<path d="M1165,2090.3 L1182.2,2107.5 L1165,2124.7 L1147.8,2107.5 Z" fill="#4cb748"/>
<path d="M680.4,2570.8 L697.6,2588 L680.4,2605.2 L663.2,2588 Z" fill="#4cb748"/>
<circle cx="242.6" cy="263.8" r="15" fill="#1480c6"/>
<text x="243.3" y="272.1" font-family='"Liberation Sans", sans-serif' font-size="23.5" font-weight="bold" fill="#fff" stroke="#fff" stroke-width="0.9" text-anchor="middle">P</text>
<circle cx="377" cy="738" r="15" fill="#1480c6"/>
<text x="377.7" y="746.3" font-family='"Liberation Sans", sans-serif' font-size="23.5" font-weight="bold" fill="#fff" stroke="#fff" stroke-width="0.9" text-anchor="middle">P</text>
<circle cx="262.6" cy="1291" r="15" fill="#1480c6"/>
<text x="263.3" y="1299.3" font-family='"Liberation Sans", sans-serif' font-size="23.5" font-weight="bold" fill="#fff" stroke="#fff" stroke-width="0.9" text-anchor="middle">P</text>
<circle cx="781" cy="1362" r="15" fill="#1480c6"/>
<text x="781.7" y="1370.3" font-family='"Liberation Sans", sans-serif' font-size="23.5" font-weight="bold" fill="#fff" stroke="#fff" stroke-width="0.9" text-anchor="middle">P</text>
<circle cx="1675" cy="1750.6" r="15" fill="#1480c6"/>
<text x="1675.7" y="1758.9" font-family='"Liberation Sans", sans-serif' font-size="23.5" font-weight="bold" fill="#fff" stroke="#fff" stroke-width="0.9" text-anchor="middle">P</text>
<circle cx="596.7" cy="2483.8" r="15" fill="#1480c6"/>
<text x="597.4" y="2492.1" font-family='"Liberation Sans", sans-serif' font-size="23.5" font-weight="bold" fill="#fff" stroke="#fff" stroke-width="0.9" text-anchor="middle">P</text>
<g transform="translate(183,262) scale(1)"><circle r="14.5" fill="#fff" stroke="#000" stroke-width="3"/><path d="M-9.5,-5.3 H9.5 V-0.8 H-9.5 Z M-2.5,-0.8 V12.5 M2.5,-0.8 V12.5" fill="none" stroke="#000" stroke-width="2.6"/></g>
<g transform="translate(365.7,771.6) scale(1)"><circle r="14.5" fill="#fff" stroke="#000" stroke-width="3"/><path d="M-9.5,-5.3 H9.5 V-0.8 H-9.5 Z M-2.5,-0.8 V12.5 M2.5,-0.8 V12.5" fill="none" stroke="#000" stroke-width="2.6"/></g>
<ellipse cx="288.7" cy="348" rx="27" ry="18" fill="#fff" stroke="#000" stroke-width="2"/>
<text transform="translate(288.7,357.8) scale(0.86,1)" font-family='"Liberation Sans", sans-serif' font-size="27.5" font-weight="bold" stroke="#000" stroke-width="0.5" text-anchor="middle">88</text>
<ellipse cx="331.7" cy="879" rx="27" ry="18" fill="#fff" stroke="#000" stroke-width="2"/>
<text transform="translate(331.7,888.8) scale(0.86,1)" font-family='"Liberation Sans", sans-serif' font-size="27.5" font-weight="bold" stroke="#000" stroke-width="0.5" text-anchor="middle">88</text>
<ellipse cx="390" cy="1300" rx="27" ry="18" fill="#fff" stroke="#000" stroke-width="2"/>
<text transform="translate(390,1309.8) scale(0.86,1)" font-family='"Liberation Sans", sans-serif' font-size="27.5" font-weight="bold" stroke="#000" stroke-width="0.5" text-anchor="middle">88</text>
<ellipse cx="786.5" cy="1667.5" rx="27" ry="18" fill="#fff" stroke="#000" stroke-width="2"/>
<text transform="translate(786.5,1677.3) scale(0.86,1)" font-family='"Liberation Sans", sans-serif' font-size="27.5" font-weight="bold" stroke="#000" stroke-width="0.5" text-anchor="middle">88</text>
<ellipse cx="642.8" cy="2289.8" rx="27" ry="18" fill="#fff" stroke="#000" stroke-width="2"/>
<text transform="translate(642.8,2299.6) scale(0.86,1)" font-family='"Liberation Sans", sans-serif' font-size="27.5" font-weight="bold" stroke="#000" stroke-width="0.5" text-anchor="middle">88</text>
<ellipse cx="1184.4" cy="1551.7" rx="27" ry="18" fill="#fff" stroke="#000" stroke-width="2"/>
<text transform="translate(1184.4,1561.5) scale(0.78,1)" font-family='"Liberation Sans", sans-serif' font-size="27.5" font-weight="bold" stroke="#000" stroke-width="0.5" text-anchor="middle">837</text>
<g transform="translate(1242.6,2636.5)"><path d="M-26,-21 Q-13,-15 0,-25 Q13,-15 26,-21 Q31,-3 22,11 Q12,21 0,26 Q-12,21 -22,11 Q-31,-3 -26,-21 Z" fill="#fff" stroke="#000" stroke-width="2"/><path d="M-26,-21 Q-13,-15 0,-25 Q13,-15 26,-21 Q27.3,-16 27.5,-11.5 L-27.5,-11.5 Q-27.3,-16 -26,-21 Z" fill="#000"/></g>
<text transform="translate(1243,2657) scale(0.84,1)" font-family='"Liberation Sans", sans-serif' font-size="27.5" font-weight="bold" font-style="normal" fill="#000" text-anchor="middle" stroke="#000" stroke-width="0.4">70</text>
<text transform="translate(721.6,1803) rotate(-45)" y="9.3" font-family='"Liberation Sans", sans-serif' font-size="26" font-weight="bold" font-style="normal" fill="#fff" text-anchor="middle" textLength="183" lengthAdjust="spacingAndGlyphs" stroke="#fff" stroke-width="0.7">COUNTRY CLUB</text>
<text transform="translate(1556.8,1643.5)" y="9.7" font-family='"Liberation Sans", sans-serif' font-size="27" font-weight="bold" font-style="normal" fill="#fff" text-anchor="middle" textLength="53.5" lengthAdjust="spacingAndGlyphs" stroke="#fff" stroke-width="0.7">11TH</text>
<text transform="translate(1556.8,1729)" y="9.7" font-family='"Liberation Sans", sans-serif' font-size="27" font-weight="bold" font-style="normal" fill="#fff" text-anchor="middle" textLength="42.5" lengthAdjust="spacingAndGlyphs" stroke="#fff" stroke-width="0.7">8TH</text>
<text transform="translate(1556.8,1876.5)" y="9.7" font-family='"Liberation Sans", sans-serif' font-size="27" font-weight="bold" font-style="normal" fill="#fff" text-anchor="middle" textLength="44" lengthAdjust="spacingAndGlyphs" stroke="#fff" stroke-width="0.7">3RD</text>
<text transform="translate(1519.8,1809) rotate(-90)" y="9.3" font-family='"Liberation Sans", sans-serif' font-size="26" font-weight="bold" font-style="normal" fill="#fff" text-anchor="middle" textLength="98" lengthAdjust="spacingAndGlyphs" stroke="#fff" stroke-width="0.7">McKEAN</text>
<text transform="translate(1601.6,1809) rotate(-90)" y="9.3" font-family='"Liberation Sans", sans-serif' font-size="26" font-weight="bold" font-style="normal" fill="#fff" text-anchor="middle" textLength="98" lengthAdjust="spacingAndGlyphs" stroke="#fff" stroke-width="0.7">MELDON</text>
<g transform="translate(1519.8,1685) rotate(-90)"><path d="M-18.5,0 H8.4" stroke="#fff" stroke-width="3" fill="none"/>
<path d="M18.5,0 L4.5,-7.3 L7.9,0 L4.5,7.3 Z" fill="#fff"/>
</g>
<g transform="translate(1600.4,1670) rotate(90)"><path d="M-18.5,0 H8.4" stroke="#fff" stroke-width="3" fill="none"/>
<path d="M18.5,0 L4.5,-7.3 L7.9,0 L4.5,7.3 Z" fill="#fff"/>
</g>
<text transform="translate(1448.8,1909) rotate(-45)" y="9.3" font-family='"Liberation Sans", sans-serif' font-size="26" font-weight="bold" font-style="normal" fill="#000" text-anchor="middle" textLength="98" lengthAdjust="spacingAndGlyphs" stroke="#000" stroke-width="0.9">McKEAN</text>
<text transform="translate(1515.5,2091) rotate(45)" y="9.3" font-family='"Liberation Sans", sans-serif' font-size="26" font-weight="bold" font-style="normal" fill="#fff" text-anchor="middle" textLength="174" lengthAdjust="spacingAndGlyphs" stroke="#fff" stroke-width="0.7">VANCE DEICAS</text>
<g transform="translate(1606.5,2182) rotate(45)"><path d="M-9.9,0 H9.9" stroke="#fff" stroke-width="3" fill="none"/>
<path d="M20,0 L6,-7.3 L9.4,0 L6,7.3 Z" fill="#fff"/>
<path d="M-20,0 L-6,-7.3 L-9.4,0 L-6,7.3 Z" fill="#fff"/>
</g>
<text transform="translate(1159.6,2157.9)" font-family='"Liberation Sans", sans-serif' font-size="27" font-weight="bold" font-style="normal" fill="#fff" text-anchor="start" textLength="94" lengthAdjust="spacingAndGlyphs" stroke="#fff" stroke-width="0.7">DONNER</text>
<g transform="translate(1291,2147) rotate(180)"><path d="M-18.5,0 H8.4" stroke="#fff" stroke-width="3" fill="none"/>
<path d="M18.5,0 L4.5,-7.3 L7.9,0 L4.5,7.3 Z" fill="#fff"/>
</g>
<text transform="translate(1379,2176) rotate(45)" y="8.9" font-family='"Liberation Sans", sans-serif' font-size="25" font-weight="bold" font-style="normal" fill="#fff" text-anchor="middle" textLength="112" lengthAdjust="spacingAndGlyphs" stroke="#fff" stroke-width="0.7">EASTGATE</text>
<g transform="translate(1071,2173) rotate(90)"><path d="M-18.5,0 H8.4" stroke="#fff" stroke-width="3" fill="none"/>
<path d="M18.5,0 L4.5,-7.3 L7.9,0 L4.5,7.3 Z" fill="#fff"/>
</g>
<g transform="translate(1174,2219.7) rotate(0)"><path d="M-18.5,0 H8.4" stroke="#fff" stroke-width="3" fill="none"/>
<path d="M18.5,0 L4.5,-7.3 L7.9,0 L4.5,7.3 Z" fill="#fff"/>
</g>
<text transform="translate(1201.4,2230.6)" font-family='"Liberation Sans", sans-serif' font-size="27" font-weight="bold" font-style="normal" fill="#fff" text-anchor="start" textLength="179.6" lengthAdjust="spacingAndGlyphs" stroke="#fff" stroke-width="0.7">SCHOONMAKER</text>
<text transform="translate(1556,2230.6)" font-family='"Liberation Sans", sans-serif' font-size="27" font-weight="bold" font-style="normal" fill="#fff" text-anchor="start" textLength="94" lengthAdjust="spacingAndGlyphs" stroke="#fff" stroke-width="0.7">RTE 906</text>
<g transform="translate(865.5,2371.4) rotate(90)"><path d="M-9.9,0 H9.9" stroke="#fff" stroke-width="3" fill="none"/>
<path d="M20,0 L6,-7.3 L9.4,0 L6,7.3 Z" fill="#fff"/>
<path d="M-20,0 L-6,-7.3 L-9.4,0 L-6,7.3 Z" fill="#fff"/>
</g>
<g transform="translate(641,2407) rotate(90)"><path d="M-11.9,0 H11.9" stroke="#fff" stroke-width="3" fill="none"/>
<path d="M22,0 L8,-7.3 L11.4,0 L8,7.3 Z" fill="#fff"/>
<path d="M-22,0 L-8,-7.3 L-11.4,0 L-8,7.3 Z" fill="#fff"/>
</g>
<g transform="translate(641,2579) rotate(90)"><path d="M-15.5,0 H5.4" stroke="#fff" stroke-width="3" fill="none"/>
<path d="M15.5,0 L1.5,-7.3 L4.9,0 L1.5,7.3 Z" fill="#fff"/>
</g>
<g transform="translate(741,2576) rotate(-135)"><path d="M-18.5,0 H8.4" stroke="#fff" stroke-width="3" fill="none"/>
<path d="M18.5,0 L4.5,-7.3 L7.9,0 L4.5,7.3 Z" fill="#fff"/>
</g>
<text transform="translate(812.6,2647.5) rotate(45)" y="9.3" font-family='"Liberation Sans", sans-serif' font-size="26" font-weight="bold" font-style="normal" fill="#fff" text-anchor="middle" textLength="98" lengthAdjust="spacingAndGlyphs" stroke="#fff" stroke-width="0.7">McKEAN</text>
<text transform="translate(703.5,2670) rotate(45)" y="9.3" font-family='"Liberation Sans", sans-serif' font-size="26" font-weight="bold" font-style="normal" fill="#fff" text-anchor="middle" textLength="163" lengthAdjust="spacingAndGlyphs" stroke="#fff" stroke-width="0.7">FALLOWFIELD</text>
<text transform="translate(871,2801.5) rotate(-45)" y="9.3" font-family='"Liberation Sans", sans-serif' font-size="26" font-weight="bold" font-style="normal" fill="#fff" text-anchor="middle" textLength="38" lengthAdjust="spacingAndGlyphs" stroke="#fff" stroke-width="0.7">1ST</text>
<text transform="translate(965.9,2546.8) rotate(45)" y="9.3" font-family='"Liberation Sans", sans-serif' font-size="26" font-weight="bold" font-style="normal" fill="#fff" text-anchor="middle" textLength="93" lengthAdjust="spacingAndGlyphs" stroke="#fff" stroke-width="0.7">RTE 906</text>
<text transform="translate(1085.3,2797) rotate(-45)" y="9.3" font-family='"Liberation Sans", sans-serif' font-size="26" font-weight="bold" font-style="normal" fill="#fff" text-anchor="middle" textLength="46" lengthAdjust="spacingAndGlyphs" stroke="#fff" stroke-width="0.7">I-70</text>
<g transform="translate(1135.7,2748.7) rotate(-45)"><path d="M-9.9,0 H9.9" stroke="#fff" stroke-width="3" fill="none"/>
<path d="M20,0 L6,-7.3 L9.4,0 L6,7.3 Z" fill="#fff"/>
<path d="M-20,0 L-6,-7.3 L-9.4,0 L-6,7.3 Z" fill="#fff"/>
</g>
<text transform="translate(991.3,2871.8) rotate(45)" y="9.3" font-family='"Liberation Sans", sans-serif' font-size="26" font-weight="bold" font-style="normal" fill="#000" text-anchor="middle" textLength="180" lengthAdjust="spacingAndGlyphs" stroke="#000" stroke-width="0.9">PENNSYLVANIA</text>
<rect x="809.6" y="1417.3" width="33" height="33" fill="#000"/>
<path d="M816.1,1423.7 h20 v6.6 h-6.2 v13.6 h-7.6 v-13.6 h-6.2 z" fill="#fff"/>
<path d="M843,1435.2 L932.5,1435.2 L932.5,1422.5" stroke="#000" stroke-width="1.6" fill="none"/>
<rect x="865.4" y="1380" width="101.3" height="42.5" rx="10" fill="#fff" stroke="#000" stroke-width="1.8"/>
<text transform="translate(916,1409.6)" font-family='"Liberation Sans", sans-serif' font-size="25.5" font-weight="normal" font-style="normal" fill="#000" text-anchor="middle" textLength="70.5" lengthAdjust="spacingAndGlyphs" stroke="#000" stroke-width="0.55">Valley 1</text>
<rect x="353" y="2494" width="209.8" height="108" rx="13" fill="#fff" stroke="#000" stroke-width="1.8"/>
<text transform="translate(457.9,2524.4)" font-family='"Liberation Sans", sans-serif' font-size="27" font-weight="bold" font-style="normal" fill="#000" text-anchor="middle" textLength="85.7" lengthAdjust="spacingAndGlyphs" stroke="#000" stroke-width="0.4">MMVTA</text>
<text transform="translate(457.9,2551.7)" font-family='"Liberation Sans", sans-serif' font-size="27" font-weight="bold" font-style="normal" fill="#000" text-anchor="middle" textLength="159" lengthAdjust="spacingAndGlyphs" stroke="#000" stroke-width="0.4">Transit Center</text>
<path d="M367,2562 L548.8,2562" stroke="#000" stroke-width="1.4" fill="none"/>
<text transform="translate(457.9,2587)" font-family='"Liberation Sans", sans-serif' font-size="25" font-weight="normal" font-style="normal" fill="#000" text-anchor="middle" textLength="155.5" lengthAdjust="spacingAndGlyphs" stroke="#000" stroke-width="0.45">Valley 1, Valley 4</text>
<path d="M562.8,2558.4 L663,2558.4" stroke="#000" stroke-width="1.6" fill="none"/>
<rect x="662.3" y="2542.3" width="31.5" height="31.5" fill="#000"/>
<path d="M668,2548 h20 v6.6 h-6.2 v13.6 h-7.6 v-13.6 h-6.2 z" fill="#fff"/>
<rect x="794.2" y="2520" width="98.1" height="86" rx="8" fill="#fff" stroke="#000" stroke-width="1.8"/>
<text transform="translate(803,2545.5)" font-family='"Liberation Sans", sans-serif' font-size="26" font-weight="normal" font-style="normal" fill="#000" text-anchor="start" textLength="78" lengthAdjust="spacingAndGlyphs" stroke="#000" stroke-width="0.45">Valley 1,</text>
<text transform="translate(803,2569.7)" font-family='"Liberation Sans", sans-serif' font-size="26" font-weight="normal" font-style="normal" fill="#000" text-anchor="start" textLength="78" lengthAdjust="spacingAndGlyphs" stroke="#000" stroke-width="0.45">Valley 2,</text>
<text transform="translate(803,2593.9)" font-family='"Liberation Sans", sans-serif' font-size="26" font-weight="normal" font-style="normal" fill="#000" text-anchor="start" textLength="72" lengthAdjust="spacingAndGlyphs" stroke="#000" stroke-width="0.45">Valley 4</text>
<path d="M867,2606 L867,2626" stroke="#000" stroke-width="1.6" fill="none"/>
<rect x="851.8" y="2625.6" width="31.8" height="31.8" fill="#000"/>
<path d="M857.7,2631.4 h20 v6.6 h-6.2 v13.6 h-7.6 v-13.6 h-6.2 z" fill="#fff"/>
<rect x="720.3" y="2745.7" width="31.5" height="31.5" fill="#000"/>
<path d="M726,2751.3 h20 v6.6 h-6.2 v13.6 h-7.6 v-13.6 h-6.2 z" fill="#fff"/>
<path d="M720.3,2761.4 L698.4,2761.4 L698.4,2851" stroke="#000" stroke-width="1.6" fill="none"/>
<rect x="680" y="2850.6" width="105" height="84.4" rx="8" fill="#fff" stroke="#000" stroke-width="1.8"/>
<text transform="translate(693,2876)" font-family='"Liberation Sans", sans-serif' font-size="26" font-weight="normal" font-style="normal" fill="#000" text-anchor="start" textLength="78" lengthAdjust="spacingAndGlyphs" stroke="#000" stroke-width="0.45">Valley 1,</text>
<text transform="translate(693,2900.2)" font-family='"Liberation Sans", sans-serif' font-size="26" font-weight="normal" font-style="normal" fill="#000" text-anchor="start" textLength="78" lengthAdjust="spacingAndGlyphs" stroke="#000" stroke-width="0.45">Valley 2,</text>
<text transform="translate(693,2924.4)" font-family='"Liberation Sans", sans-serif' font-size="26" font-weight="normal" font-style="normal" fill="#000" text-anchor="start" textLength="72" lengthAdjust="spacingAndGlyphs" stroke="#000" stroke-width="0.45">Valley 4</text>
<path id="mono2" d="M812,2083 Q940,2046 1076,2060" fill="none"/>
<text font-family='"Liberation Serif", serif' font-size="31" font-style="italic" font-weight="bold" fill="#1b75bc"><textPath href="#mono2" textLength="266" lengthAdjust="spacing">Monongahela River</textPath></text>
<circle cx="290" cy="245.6" r="26.4" fill="#fff"/>
<circle cx="290" cy="245.6" r="24.1" fill="#e25b26"/>
<g transform="translate(290,245.6) scale(1)"><path transform="translate(-17.7,-15.3)" d="M6.6,0 H13.6 V30.6 H5.2 V10.4 H0 V4.9 H1.6 Q6,4.7 6.6,0 Z" fill="#fff"/><text transform="translate(8.8,14.4) scale(0.8,1)" font-family='"Liberation Sans", sans-serif' font-size="40.5" font-weight="bold" fill="#fff" stroke="#fff" stroke-width="2" stroke-linejoin="round" text-anchor="middle">2</text></g>
<circle cx="290" cy="445.7" r="26.4" fill="#fff"/>
<circle cx="290" cy="445.7" r="24.1" fill="#e25b26"/>
<g transform="translate(290,445.7) scale(1)"><path transform="translate(-17.7,-15.3)" d="M6.6,0 H13.6 V30.6 H5.2 V10.4 H0 V4.9 H1.6 Q6,4.7 6.6,0 Z" fill="#fff"/><text transform="translate(8.8,14.4) scale(0.8,1)" font-family='"Liberation Sans", sans-serif' font-size="40.5" font-weight="bold" fill="#fff" stroke="#fff" stroke-width="2" stroke-linejoin="round" text-anchor="middle">5</text></g>
<circle cx="286.8" cy="526.4" r="26.4" fill="#fff"/>
<circle cx="286.8" cy="526.4" r="24.1" fill="#e25b26"/>
<g transform="translate(286.8,526.4) scale(1)"><path transform="translate(-16.2,-15.3)" d="M6.6,0 H13.6 V30.6 H5.2 V10.4 H0 V4.9 H1.6 Q6,4.7 6.6,0 Z" fill="#fff"/><path transform="translate(1.5,-15.3)" d="M6.6,0 H13.6 V30.6 H5.2 V10.4 H0 V4.9 H1.6 Q6,4.7 6.6,0 Z" fill="#fff"/></g>
<circle cx="286.8" cy="730.4" r="26.4" fill="#fff"/>
<circle cx="286.8" cy="730.4" r="24.1" fill="#e25b26"/>
<g transform="translate(286.8,730.4) scale(1)"><path transform="translate(-17.7,-15.3)" d="M6.6,0 H13.6 V30.6 H5.2 V10.4 H0 V4.9 H1.6 Q6,4.7 6.6,0 Z" fill="#fff"/><text transform="translate(8.8,14.4) scale(0.8,1)" font-family='"Liberation Sans", sans-serif' font-size="40.5" font-weight="bold" fill="#fff" stroke="#fff" stroke-width="2" stroke-linejoin="round" text-anchor="middle">6</text></g>
<circle cx="327.5" cy="807.4" r="26.4" fill="#fff"/>
<circle cx="327.5" cy="807.4" r="24.1" fill="#e25b26"/>
<g transform="translate(327.5,807.4) scale(1)"><path transform="translate(-17.7,-15.3)" d="M6.6,0 H13.6 V30.6 H5.2 V10.4 H0 V4.9 H1.6 Q6,4.7 6.6,0 Z" fill="#fff"/><text transform="translate(8.8,14.4) scale(0.8,1)" font-family='"Liberation Sans", sans-serif' font-size="40.5" font-weight="bold" fill="#fff" stroke="#fff" stroke-width="2" stroke-linejoin="round" text-anchor="middle">0</text></g>
<circle cx="309.3" cy="959.6" r="26.4" fill="#fff"/>
<circle cx="309.3" cy="959.6" r="24.1" fill="#e25b26"/>
<g transform="translate(309.3,959.6) scale(1)"><path transform="translate(-17.7,-15.3)" d="M6.6,0 H13.6 V30.6 H5.2 V10.4 H0 V4.9 H1.6 Q6,4.7 6.6,0 Z" fill="#fff"/><text transform="translate(8.8,14.4) scale(0.8,1)" font-family='"Liberation Sans", sans-serif' font-size="40.5" font-weight="bold" fill="#fff" stroke="#fff" stroke-width="2" stroke-linejoin="round" text-anchor="middle">7</text></g>
<circle cx="309.3" cy="1028" r="26.4" fill="#fff"/>
<circle cx="309.3" cy="1028" r="24.1" fill="#e25b26"/>
<g transform="translate(309.3,1028) scale(1)"><text transform="translate(0,14.4) scale(0.95,1)" font-family='"Liberation Sans", sans-serif' font-size="40.5" font-weight="bold" fill="#fff" stroke="#fff" stroke-width="2" stroke-linejoin="round" text-anchor="middle">9</text></g>
<circle cx="308" cy="1295.9" r="26.4" fill="#fff"/>
<circle cx="308" cy="1295.9" r="24.1" fill="#e25b26"/>
<g transform="translate(308,1295.9) scale(1)"><text transform="translate(0,14.4) scale(0.95,1)" font-family='"Liberation Sans", sans-serif' font-size="40.5" font-weight="bold" fill="#fff" stroke="#fff" stroke-width="2" stroke-linejoin="round" text-anchor="middle">8</text></g>
<circle cx="470" cy="1300" r="26.4" fill="#fff"/>
<circle cx="470" cy="1300" r="24.1" fill="#e25b26"/>
<g transform="translate(470,1300) scale(1)"><path transform="translate(-17.7,-15.3)" d="M6.6,0 H13.6 V30.6 H5.2 V10.4 H0 V4.9 H1.6 Q6,4.7 6.6,0 Z" fill="#fff"/><text transform="translate(8.8,14.4) scale(0.8,1)" font-family='"Liberation Sans", sans-serif' font-size="40.5" font-weight="bold" fill="#fff" stroke="#fff" stroke-width="2" stroke-linejoin="round" text-anchor="middle">8</text></g>
<circle cx="545.8" cy="1299" r="26.4" fill="#fff"/>
<circle cx="545.8" cy="1299" r="24.1" fill="#e25b26"/>
<g transform="translate(545.8,1299) scale(1)"><text transform="translate(0,14.4) scale(0.95,1)" font-family='"Liberation Sans", sans-serif' font-size="40.5" font-weight="bold" fill="#fff" stroke="#fff" stroke-width="2" stroke-linejoin="round" text-anchor="middle">7</text></g>
<circle cx="656" cy="1324.4" r="26.4" fill="#fff"/>
<circle cx="656" cy="1324.4" r="24.1" fill="#e25b26"/>
<g transform="translate(656,1324.4) scale(1)"><path transform="translate(-17.7,-15.3)" d="M6.6,0 H13.6 V30.6 H5.2 V10.4 H0 V4.9 H1.6 Q6,4.7 6.6,0 Z" fill="#fff"/><text transform="translate(8.8,14.4) scale(0.8,1)" font-family='"Liberation Sans", sans-serif' font-size="40.5" font-weight="bold" fill="#fff" stroke="#fff" stroke-width="2" stroke-linejoin="round" text-anchor="middle">9</text></g>
<circle cx="769.5" cy="1442" r="26.4" fill="#fff"/>
<circle cx="769.5" cy="1442" r="24.1" fill="#e25b26"/>
<g transform="translate(769.5,1442) scale(1)"><text transform="translate(0,14.4) scale(0.95,1)" font-family='"Liberation Sans", sans-serif' font-size="40.5" font-weight="bold" fill="#fff" stroke="#fff" stroke-width="2" stroke-linejoin="round" text-anchor="middle">6</text></g>
<circle cx="585" cy="1950" r="26.4" fill="#fff"/>
<circle cx="585" cy="1950" r="24.1" fill="#e25b26"/>
<g transform="translate(585,1950) scale(1)"><text transform="translate(0,14.4) scale(0.95,1)" font-family='"Liberation Sans", sans-serif' font-size="40.5" font-weight="bold" fill="#fff" stroke="#fff" stroke-width="2" stroke-linejoin="round" text-anchor="middle">5</text></g>
<circle cx="644" cy="2497" r="26.4" fill="#fff"/>
<circle cx="644" cy="2497" r="24.1" fill="#e25b26"/>
<g transform="translate(644,2497) scale(1)"><text transform="translate(0,14.4) scale(0.95,1)" font-family='"Liberation Sans", sans-serif' font-size="40.5" font-weight="bold" fill="#fff" stroke="#fff" stroke-width="2" stroke-linejoin="round" text-anchor="middle">4</text></g>
<circle cx="788.8" cy="2756.6" r="26.4" fill="#fff"/>
<circle cx="788.8" cy="2756.6" r="24.1" fill="#e25b26"/>
<g transform="translate(788.8,2756.6) scale(1)"><text transform="translate(-10.3,14.4) scale(0.8,1)" font-family='"Liberation Sans", sans-serif' font-size="40.5" font-weight="bold" fill="#fff" stroke="#fff" stroke-width="2" stroke-linejoin="round" text-anchor="middle">2</text><text transform="translate(10.3,14.4) scale(0.8,1)" font-family='"Liberation Sans", sans-serif' font-size="40.5" font-weight="bold" fill="#fff" stroke="#fff" stroke-width="2" stroke-linejoin="round" text-anchor="middle">0</text></g>
<circle cx="917.3" cy="2757.8" r="26.4" fill="#fff"/>
<circle cx="917.3" cy="2757.8" r="24.1" fill="#e25b26"/>
<g transform="translate(917.3,2757.8) scale(1)"><text transform="translate(0,14.4) scale(0.95,1)" font-family='"Liberation Sans", sans-serif' font-size="40.5" font-weight="bold" fill="#fff" stroke="#fff" stroke-width="2" stroke-linejoin="round" text-anchor="middle">3</text></g>
<circle cx="1105" cy="2219.7" r="26.4" fill="#fff"/>
<circle cx="1105" cy="2219.7" r="24.1" fill="#e25b26"/>
<g transform="translate(1105,2219.7) scale(1)"><text transform="translate(-8.8,14.4) scale(0.8,1)" font-family='"Liberation Sans", sans-serif' font-size="40.5" font-weight="bold" fill="#fff" stroke="#fff" stroke-width="2" stroke-linejoin="round" text-anchor="middle">2</text><path transform="translate(3,-15.3)" d="M6.6,0 H13.6 V30.6 H5.2 V10.4 H0 V4.9 H1.6 Q6,4.7 6.6,0 Z" fill="#fff"/></g>
<circle cx="1451.8" cy="2221.5" r="26.4" fill="#fff"/>
<circle cx="1451.8" cy="2221.5" r="24.1" fill="#e25b26"/>
<g transform="translate(1451.8,2221.5) scale(1)"><text transform="translate(0,14.4) scale(0.95,1)" font-family='"Liberation Sans", sans-serif' font-size="40.5" font-weight="bold" fill="#fff" stroke="#fff" stroke-width="2" stroke-linejoin="round" text-anchor="middle">2</text></g>
<circle cx="1465" cy="1947.4" r="26.4" fill="#fff"/>
<circle cx="1465" cy="1947.4" r="24.1" fill="#e25b26"/>
<g transform="translate(1465,1947.4) scale(1)"><text transform="translate(-10.3,14.4) scale(0.8,1)" font-family='"Liberation Sans", sans-serif' font-size="40.5" font-weight="bold" fill="#fff" stroke="#fff" stroke-width="2" stroke-linejoin="round" text-anchor="middle">2</text><text transform="translate(10.3,14.4) scale(0.8,1)" font-family='"Liberation Sans", sans-serif' font-size="40.5" font-weight="bold" fill="#fff" stroke="#fff" stroke-width="2" stroke-linejoin="round" text-anchor="middle">2</text></g>
<circle cx="1632" cy="1728.8" r="26.4" fill="#fff"/>
<circle cx="1632" cy="1728.8" r="24.1" fill="#e25b26"/>
<g transform="translate(1632,1728.8) scale(1)"><path transform="translate(-8,-15.3)" d="M6.6,0 H13.6 V30.6 H5.2 V10.4 H0 V4.9 H1.6 Q6,4.7 6.6,0 Z" fill="#fff"/></g>
<rect x="887.4" y="426.3" width="824" height="762.2" fill="#fff"/>
<g clip-path="url(#insetclip)">
<path d="M880,658 C894.8,651 944.3,629.7 969,615.7 C993.7,601.7 1010.7,587.8 1028,574 C1045.3,560.2 1058.5,548.4 1072.7,532.7 C1086.9,517 1106.3,488.8 1113,480 L1194,480  C1183.7,491.8 1152.2,528.9 1132,550.5 C1111.8,572.1 1092.5,592 1072.7,609.7 C1052.9,627.5 1033.2,643.1 1013.4,657 C993.6,670.9 976.2,681.5 954,692.8 C931.8,704.1 892.3,719.6 880,725 Z" fill="#d6edfa"/>
<path d="M880,772 C892.8,781.3 934.5,812.3 957,828 C979.5,843.7 996.7,854.8 1015,866 C1033.3,877.2 1044.5,884.3 1067,895 C1089.5,905.7 1119.5,919.2 1150,930 C1180.5,940.8 1219.4,950.1 1250,960 C1280.6,969.9 1300.3,977.3 1333.6,989.5 C1366.8,1001.7 1410.9,1021.9 1449.5,1033 C1488.1,1044.1 1519.9,1051.2 1565,1056 C1610.1,1060.8 1694.2,1061 1720,1062 L1720,1121.6  C1694.2,1120.8 1610.1,1120.2 1565,1117 C1519.9,1113.8 1488.1,1109.3 1449.5,1102.5 C1410.9,1095.7 1367.4,1085.6 1333.6,1076.4 C1299.8,1067.2 1275.6,1056.9 1246.7,1047.5 C1217.8,1038.1 1189,1030.6 1160,1020 C1131,1009.4 1099,996 1072.8,983.7 C1046.6,971.4 1024.3,959.5 1003,946 C981.7,932.5 965.5,918.6 945,902.6 C924.5,886.6 890.8,858.8 880,850 Z" fill="#d6edfa"/>
<path d="M945,478 L1137.7,670.8" stroke="#8798a4" stroke-width="4.6" fill="none" />
<path d="M945,478 L1137.7,670.8" stroke="#8798a4" stroke-width="15" stroke-dasharray="2.6 12.8" stroke-dashoffset="-5" fill="none" />
<path d="M1137.7,670.8 L1296,512.5 Q1312,496.5 1328,512.5 L1468,652.5 Q1480.5,665 1480.5,682 L1480.5,765 Q1480.5,778 1471,787.5 L1241,1018.5 Q1232,1028 1219,1028 L1165,1028 Q1141,1028 1141,1052 L1141,1165" stroke="#8798a4" stroke-width="4.6" fill="none" />
<path d="M1137.7,670.8 L1296,512.5 Q1312,496.5 1328,512.5 L1468,652.5 Q1480.5,665 1480.5,682 L1480.5,765 Q1480.5,778 1471,787.5 L1241,1018.5 Q1232,1028 1219,1028 L1165,1028 Q1141,1028 1141,1052 L1141,1165" stroke="#8798a4" stroke-width="15" stroke-dasharray="2.6 12.8" stroke-dashoffset="-5" fill="none" />
<rect x="1128" y="1095" width="26" height="75" fill="url(#fadeDn)"/>
<path d="M1461,585 L1506,630" stroke="#b3b5b8" stroke-width="6" fill="none"/>
<path d="M1379,654.7 L1429.4,705" stroke="#b3b5b8" stroke-width="6" fill="none"/>
<path d="M1322.7,709 L1374,760" stroke="#b3b5b8" stroke-width="6" fill="none"/>
<path d="M1262,770 L1313,821" stroke="#b3b5b8" stroke-width="6" fill="none"/>
<path d="M1237,797 L1288,847.5" stroke="#b3b5b8" stroke-width="6" fill="none"/>
<path d="M1197,847 L1240,890" stroke="#b3b5b8" stroke-width="6" fill="none"/>
<path d="M1541,492 L1631,582 L1500,582 L1094,988 L1094,1180" stroke="#04478a" stroke-width="32.5" fill="none" stroke-linejoin="round"/>
<rect x="1081" y="1045.6" width="26.5" height="17.5" fill="#b5c2e0"/>
<rect x="1081" y="1076.5" width="26.5" height="17.5" fill="#b5c2e0"/>
<rect x="1081" y="1112" width="26.5" height="17.5" fill="#b5c2e0"/>
<rect x="1081" y="1148.5" width="26.5" height="17.5" fill="#b5c2e0"/>
<rect x="1075" y="1060" width="38" height="112" fill="url(#fadeDn)"/>
<rect x="1075" y="1171" width="38" height="14" fill="#fff"/>
<text transform="translate(1588,542.5) rotate(45) scale(0.8,1)" y="8.9" font-family='"Liberation Sans", sans-serif' font-size="25" font-weight="bold" font-style="normal" fill="#fff" text-anchor="middle" stroke="#fff" stroke-width="0.7">11TH</text>
<text transform="translate(1509.5,592.8)" font-family='"Liberation Sans", sans-serif' font-size="27" font-weight="bold" font-style="normal" fill="#fff" text-anchor="start" textLength="95" lengthAdjust="spacingAndGlyphs" stroke="#fff" stroke-width="0.7">LIBERTY</text>
<text transform="translate(1201.4,882) rotate(-45)" y="9.3" font-family='"Liberation Sans", sans-serif' font-size="26" font-weight="bold" font-style="normal" fill="#fff" text-anchor="middle" textLength="150" lengthAdjust="spacingAndGlyphs" stroke="#fff" stroke-width="0.7">SMITHFIELD</text>
<g transform="translate(1317,768) rotate(-45)"><path d="M-12.9,0 H12.9" stroke="#fff" stroke-width="3" fill="none"/>
<path d="M23,0 L9,-7.3 L12.4,0 L9,7.3 Z" fill="#fff"/>
<path d="M-23,0 L-9,-7.3 L-12.4,0 L-9,7.3 Z" fill="#fff"/>
</g>
<circle cx="1379" cy="654.7" r="9.7" fill="#e25b26"/>
<circle cx="1505" cy="630.4" r="9.7" fill="#e25b26"/>
<circle cx="1322.7" cy="709" r="9.7" fill="#e25b26"/>
<circle cx="1429.4" cy="705" r="9.7" fill="#e25b26"/>
<circle cx="1374" cy="760" r="9.7" fill="#e25b26"/>
<circle cx="1262" cy="770" r="9.7" fill="#e25b26"/>
<circle cx="1288" cy="847.5" r="9.7" fill="#e25b26"/>
<circle cx="1066.8" cy="973" r="9.7" fill="#e25b26"/>
<rect x="1530.3" y="443.6" width="23.8" height="23.8" fill="#055123"/>
<rect x="1599.6" y="501.6" width="23.8" height="23.8" fill="#055123"/>
<rect x="1387.6" y="622.2" width="23.8" height="23.8" fill="#055123"/>
<rect x="1336.2" y="674.3" width="23.8" height="23.8" fill="#055123"/>
<rect x="1553.3" y="608.6" width="23.8" height="23.8" fill="#055123"/>
<rect x="1343.6" y="778.6" width="23.8" height="23.8" fill="#055123"/>
<rect x="1251.3" y="864.6" width="23.8" height="23.8" fill="#055123"/>
<rect x="1038.6" y="993.6" width="23.8" height="23.8" fill="#055123"/>
<rect x="1121.3" y="993.6" width="23.8" height="23.8" fill="#055123"/>
<path d="M1458.5,681 L1475.5,698 L1458.5,715 L1441.5,698 Z" fill="#4cb748"/>
<path d="M1476,698 L1507,698" stroke="#000" stroke-width="1.6" fill="none"/>
<path d="M1433.7,573 L1433.7,596" stroke="#000" stroke-width="1.6" fill="none"/>
<path d="M1051,956.5 L1051,994" stroke="#000" stroke-width="1.6" fill="none"/>
<g transform="translate(1432.4,609) scale(1)"><circle r="14.5" fill="#fff" stroke="#000" stroke-width="3"/><path d="M-9.5,-5.3 H9.5 V-0.8 H-9.5 Z M-2.5,-0.8 V12.5 M2.5,-0.8 V12.5" fill="none" stroke="#000" stroke-width="2.6"/></g>
<g transform="translate(1138,671) scale(1)"><circle r="14.5" fill="#fff" stroke="#000" stroke-width="3"/><path d="M-9.5,-5.3 H9.5 V-0.8 H-9.5 Z M-2.5,-0.8 V12.5 M2.5,-0.8 V12.5" fill="none" stroke="#000" stroke-width="2.6"/></g>
<g transform="translate(1480.5,751.7) scale(1)"><circle r="14.5" fill="#fff" stroke="#000" stroke-width="3"/><path d="M-9.5,-5.3 H9.5 V-0.8 H-9.5 Z M-2.5,-0.8 V12.5 M2.5,-0.8 V12.5" fill="none" stroke="#000" stroke-width="2.6"/></g>
<g transform="translate(1314,938.5) scale(1)"><circle r="14.5" fill="#fff" stroke="#000" stroke-width="3"/><path d="M-9.5,-5.3 H9.5 V-0.8 H-9.5 Z M-2.5,-0.8 V12.5 M2.5,-0.8 V12.5" fill="none" stroke="#000" stroke-width="2.6"/></g>
<g transform="translate(1141,1049.8) scale(1)"><circle r="14.5" fill="#fff" stroke="#000" stroke-width="3"/><path d="M-9.5,-5.3 H9.5 V-0.8 H-9.5 Z M-2.5,-0.8 V12.5 M2.5,-0.8 V12.5" fill="none" stroke="#000" stroke-width="2.6"/></g>
<circle cx="1538" cy="498.8" r="26.4" fill="#fff"/>
<circle cx="1538" cy="498.8" r="24.1" fill="#e25b26"/>
<g transform="translate(1538,498.8) scale(1)"><path transform="translate(-17.7,-15.3)" d="M6.6,0 H13.6 V30.6 H5.2 V10.4 H0 V4.9 H1.6 Q6,4.7 6.6,0 Z" fill="#fff"/><text transform="translate(8.8,14.4) scale(0.8,1)" font-family='"Liberation Sans", sans-serif' font-size="40.5" font-weight="bold" fill="#fff" stroke="#fff" stroke-width="2" stroke-linejoin="round" text-anchor="middle">4</text></g>
<circle cx="1091" cy="1019.5" r="26.4" fill="#fff"/>
<circle cx="1091" cy="1019.5" r="24.1" fill="#e25b26"/>
<g transform="translate(1091,1019.5) scale(1)"><path transform="translate(-17.7,-15.3)" d="M6.6,0 H13.6 V30.6 H5.2 V10.4 H0 V4.9 H1.6 Q6,4.7 6.6,0 Z" fill="#fff"/><text transform="translate(8.8,14.4) scale(0.8,1)" font-family='"Liberation Sans", sans-serif' font-size="40.5" font-weight="bold" fill="#fff" stroke="#fff" stroke-width="2" stroke-linejoin="round" text-anchor="middle">3</text></g>
<rect x="888.9" y="427.6" width="422.3" height="58.2" fill="#257a31"/>
<text transform="translate(921,468)" font-family='"Liberation Sans", sans-serif' font-size="35.6" font-weight="bold" font-style="normal" fill="#fff" text-anchor="start" textLength="356" lengthAdjust="spacingAndGlyphs" stroke="#fff" stroke-width="0.6">Downtown Pittsburgh</text>
<text transform="translate(1412.4,465.5)" font-family='"Liberation Sans", sans-serif' font-size="27" font-weight="normal" font-style="italic" fill="#000" text-anchor="start" textLength="104.6" lengthAdjust="spacingAndGlyphs">Greyhound</text>
<text transform="translate(1588,497)" font-family='"Liberation Sans", sans-serif' font-size="27" font-weight="normal" font-style="italic" fill="#000" text-anchor="start" textLength="72" lengthAdjust="spacingAndGlyphs">Amtrak</text>
<text transform="translate(1660.5,487) scale(1,1)" font-family='"Liberation Sans", sans-serif' font-size="15" font-weight="normal" font-style="italic" fill="#000" text-anchor="start">®</text>
<text transform="translate(1405,542.5)" font-family='"Liberation Sans", sans-serif' font-size="27" font-weight="bold" font-style="normal" fill="#000" text-anchor="start" textLength="60" lengthAdjust="spacingAndGlyphs" stroke="#000" stroke-width="0.4">Wood</text>
<text transform="translate(1401.5,570.4)" font-family='"Liberation Sans", sans-serif' font-size="27" font-weight="bold" font-style="normal" fill="#000" text-anchor="start" textLength="65.5" lengthAdjust="spacingAndGlyphs" stroke="#000" stroke-width="0.4">Street</text>
<text transform="translate(1332,615)" font-family='"Liberation Sans", sans-serif' font-size="27" font-weight="normal" font-style="italic" fill="#000" text-anchor="start" textLength="76" lengthAdjust="spacingAndGlyphs">Rite Aid</text>
<text transform="translate(1236.6,666.8)" font-family='"Liberation Sans", sans-serif' font-size="27" font-weight="normal" font-style="italic" fill="#000" text-anchor="start" textLength="117" lengthAdjust="spacingAndGlyphs">McDonald’s</text>
<text transform="translate(1585,632)" font-family='"Liberation Sans", sans-serif' font-size="27" font-weight="normal" font-style="italic" fill="#000" text-anchor="start" textLength="73" lengthAdjust="spacingAndGlyphs">Federal</text>
<text transform="translate(1582,659.5)" font-family='"Liberation Sans", sans-serif' font-size="27" font-weight="normal" font-style="italic" fill="#000" text-anchor="start" textLength="79" lengthAdjust="spacingAndGlyphs">Building</text>
<text transform="translate(1511,700)" font-family='"Liberation Sans", sans-serif' font-size="27" font-weight="normal" font-style="italic" fill="#000" text-anchor="start" textLength="135" lengthAdjust="spacingAndGlyphs">Port Authority</text>
<text transform="translate(1511,727.5)" font-family='"Liberation Sans", sans-serif' font-size="27" font-weight="normal" font-style="italic" fill="#000" text-anchor="start" textLength="146" lengthAdjust="spacingAndGlyphs">Service Center</text>
<text transform="translate(1501.6,762)" font-family='"Liberation Sans", sans-serif' font-size="27" font-weight="bold" font-style="normal" fill="#000" text-anchor="start" textLength="53.5" lengthAdjust="spacingAndGlyphs" stroke="#000" stroke-width="0.4">Steel</text>
<text transform="translate(1501.6,789)" font-family='"Liberation Sans", sans-serif' font-size="27" font-weight="bold" font-style="normal" fill="#000" text-anchor="start" textLength="57.5" lengthAdjust="spacingAndGlyphs" stroke="#000" stroke-width="0.4">Plaza</text>
<text transform="translate(1337.8,826)" font-family='"Liberation Sans", sans-serif' font-size="27" font-weight="normal" font-style="italic" fill="#000" text-anchor="start" textLength="70" lengthAdjust="spacingAndGlyphs">Macy’s</text>
<text transform="translate(1099,711)" font-family='"Liberation Sans", sans-serif' font-size="27" font-weight="bold" font-style="normal" fill="#000" text-anchor="start" textLength="91" lengthAdjust="spacingAndGlyphs" stroke="#000" stroke-width="0.4">Gateway</text>
<text transform="translate(1242.6,915.5)" font-family='"Liberation Sans", sans-serif' font-size="27" font-weight="normal" font-style="italic" fill="#000" text-anchor="start" textLength="31.5" lengthAdjust="spacingAndGlyphs">Art</text>
<text transform="translate(1200,942.7)" font-family='"Liberation Sans", sans-serif' font-size="27" font-weight="normal" font-style="italic" fill="#000" text-anchor="start" textLength="79" lengthAdjust="spacingAndGlyphs">Institute</text>
<text transform="translate(1321.5,976)" font-family='"Liberation Sans", sans-serif' font-size="27" font-weight="bold" font-style="normal" fill="#000" text-anchor="start" textLength="48.5" lengthAdjust="spacingAndGlyphs" stroke="#000" stroke-width="0.4">First</text>
<text transform="translate(1321,1003.5)" font-family='"Liberation Sans", sans-serif' font-size="27" font-weight="bold" font-style="normal" fill="#000" text-anchor="start" textLength="79" lengthAdjust="spacingAndGlyphs" stroke="#000" stroke-width="0.4">Avenue</text>
<text transform="translate(1003.4,921)" font-family='"Liberation Sans", sans-serif' font-size="27" font-weight="normal" font-style="italic" fill="#000" text-anchor="start" textLength="109" lengthAdjust="spacingAndGlyphs">Landmarks</text>
<text transform="translate(1018.6,949.8)" font-family='"Liberation Sans", sans-serif' font-size="27" font-weight="normal" font-style="italic" fill="#000" text-anchor="start" textLength="80" lengthAdjust="spacingAndGlyphs">Building</text>
<text transform="translate(1151,986)" font-family='"Liberation Sans", sans-serif' font-size="27" font-weight="normal" font-style="italic" fill="#000" text-anchor="start" textLength="69" lengthAdjust="spacingAndGlyphs">Station</text>
<text transform="translate(1151,1013.5)" font-family='"Liberation Sans", sans-serif' font-size="27" font-weight="normal" font-style="italic" fill="#000" text-anchor="start" textLength="69" lengthAdjust="spacingAndGlyphs">Square</text>
<text transform="translate(1164,1059)" font-family='"Liberation Sans", sans-serif' font-size="27" font-weight="bold" font-style="normal" fill="#000" text-anchor="start" textLength="77" lengthAdjust="spacingAndGlyphs" stroke="#000" stroke-width="0.4">Station</text>
<text transform="translate(1164,1086.8)" font-family='"Liberation Sans", sans-serif' font-size="27" font-weight="bold" font-style="normal" fill="#000" text-anchor="start" textLength="77" lengthAdjust="spacingAndGlyphs" stroke="#000" stroke-width="0.4">Square</text>
<text transform="translate(1151.4,1165.7)" font-family='"Liberation Sans", sans-serif' font-size="26.5" font-weight="bold" font-style="normal" fill="#000" text-anchor="start" textLength="397.6" lengthAdjust="spacingAndGlyphs" stroke="#000" stroke-width="0.5">Non-stop To/From Castle Shannon</text>
<g transform="translate(1124.7,1154.7) rotate(90)"><path d="M-13.5,0 H13.5" stroke="#000" stroke-width="2.6" fill="none"/>
<path d="M24,0 L10,-7.6 L13,0 L10,7.6 Z" fill="#000"/>
<path d="M-24,0 L-10,-7.6 L-13,0 L-10,7.6 Z" fill="#000"/>
</g>
<text transform="translate(1353.6,636.5) rotate(45) scale(0.84,1)" y="8.6" font-family='"Liberation Sans", sans-serif' font-size="24" font-weight="normal" font-style="normal" fill="#000" text-anchor="middle">6TH</text>
<text transform="translate(1524.6,653.5) rotate(45) scale(0.84,1)" y="8.6" font-family='"Liberation Sans", sans-serif' font-size="24" font-weight="normal" font-style="normal" fill="#000" text-anchor="middle">7TH</text>
<text transform="translate(1296,690) rotate(45) scale(0.84,1)" y="8.6" font-family='"Liberation Sans", sans-serif' font-size="24" font-weight="normal" font-style="normal" fill="#000" text-anchor="middle">5TH</text>
<text transform="translate(1235,747) rotate(45) scale(0.84,1)" y="8.6" font-family='"Liberation Sans", sans-serif' font-size="24" font-weight="normal" font-style="normal" fill="#000" text-anchor="middle">3RD</text>
<text transform="translate(1182,831.8) rotate(45) scale(0.84,1)" y="8.6" font-family='"Liberation Sans", sans-serif' font-size="24" font-weight="normal" font-style="normal" fill="#000" text-anchor="middle">1ST</text>
<text transform="translate(1371.5,932) rotate(45)" y="8.6" font-family='"Liberation Sans", sans-serif' font-size="24" font-weight="normal" font-style="normal" fill="#000" text-anchor="middle" textLength="212" lengthAdjust="spacingAndGlyphs">BLVD OF THE ALLIES</text>
<path id="alle" d="M927,678 Q1046,634 1124,529" fill="none"/>
<text font-family='"Liberation Serif", serif' font-size="33" font-style="italic" font-weight="bold" fill="#1b75bc" letter-spacing="1.5"><textPath href="#alle" textLength="252" lengthAdjust="spacing">Allegheny  River</textPath></text>
<path id="mono1" d="M1322,1038 Q1450,1088 1584,1099" fill="none"/>
<text font-family='"Liberation Serif", serif' font-size="31" font-style="italic" font-weight="bold" fill="#1b75bc"><textPath href="#mono1" textLength="264" lengthAdjust="spacing">Monongahela River</textPath></text>
</g>
<rect x="887.4" y="426.3" width="824" height="762.2" fill="none" stroke="#000" stroke-width="3"/>
<g clip-path="url(#frame)">
<path d="M1266.3,125 L1582,390 L1897.7,125 L1582,-140 Z" transform="translate(-2,11)" fill="#000" opacity="0.55" stroke="#000" stroke-width="30" stroke-linejoin="round" filter="url(#sh)"/>
<path d="M1266.3,125 L1582,390 L1897.7,125 L1582,-140 Z" fill="#fff" stroke="#fff" stroke-width="33.5" stroke-linejoin="round"/>
<path d="M1266.3,125 L1582,390 L1897.7,125 L1582,-140 Z" fill="#257a31" stroke="#257a31" stroke-width="26" stroke-linejoin="round"/>
<g transform="translate(6,7)" opacity="0.95" filter="url(#sh2)">
<text x="1411.5" y="141.5" font-family='"Liberation Sans", sans-serif' font-size="71" font-weight="bold" fill="#072d0d" stroke="#072d0d" stroke-width="4.6" stroke-linejoin="round" textLength="320" lengthAdjust="spacingAndGlyphs">COMMUTER</text>
<path d="M1487,309 L1535.6,161 L1620.5,161 L1669,309 L1612.5,309 L1602.3,276.5 L1553.8,276.5 L1543.7,309 Z M1578,193.5 L1560,240 L1596.3,240 Z" fill="#072d0d" fill-rule="evenodd"/>
</g>
<g transform="translate(0,0)" opacity="1">
<text x="1411.5" y="141.5" font-family='"Liberation Sans", sans-serif' font-size="71" font-weight="bold" fill="#fff" stroke="#fff" stroke-width="4.6" stroke-linejoin="round" textLength="320" lengthAdjust="spacingAndGlyphs">COMMUTER</text>
<path d="M1487,309 L1535.6,161 L1620.5,161 L1669,309 L1612.5,309 L1602.3,276.5 L1553.8,276.5 L1543.7,309 Z M1578,193.5 L1560,240 L1596.3,240 Z" fill="#fff" fill-rule="evenodd"/>
</g>
</g>
<rect x="12" y="6" width="1763" height="65.8" fill="#04478a"/>
<text x="122.5" y="53.6" font-family='"Liberation Sans", sans-serif' font-size="44.5" font-weight="bold" fill="#fff" stroke="#fff" stroke-width="1.5" textLength="1540" lengthAdjust="spacingAndGlyphs">Donora • Monessen • Charleroi • MidMon Valley Corridor • Downtown Pittsburgh</text>
<rect x="13.1" y="6.05" width="1761.5" height="2960.3" fill="none" stroke="#000" stroke-width="3.55"/>
<rect x="56" y="1629" width="350.5" height="612" fill="#fff" stroke="#000" stroke-width="1.8"/>
<rect x="56.9" y="1629.9" width="348.7" height="43" fill="#257a31"/>
<text transform="translate(176,1663.7)" font-family='"Liberation Sans", sans-serif' font-size="36" font-weight="bold" font-style="normal" fill="#fff" text-anchor="start" textLength="108" lengthAdjust="spacingAndGlyphs" stroke="#fff" stroke-width="0.7">LEGEND</text>
<rect x="79" y="1692" width="77" height="23.3" fill="#04478a"/>
<text transform="translate(174,1715)" font-family='"Liberation Sans", sans-serif' font-size="27.5" font-weight="normal" font-style="normal" fill="#000" text-anchor="start" textLength="104" lengthAdjust="spacingAndGlyphs">Bus Route</text>
<rect x="79" y="1738" width="77" height="24" fill="#04478a"/>
<rect x="79" y="1742" width="9.5" height="17.2" fill="#b5c2e0"/>
<rect x="98" y="1742" width="14.8" height="17.2" fill="#b5c2e0"/>
<rect x="122.2" y="1742" width="14.8" height="17.2" fill="#b5c2e0"/>
<rect x="146.5" y="1742" width="9.5" height="17.2" fill="#b5c2e0"/>
<text transform="translate(174,1760.7)" font-family='"Liberation Sans", sans-serif' font-size="27.5" font-weight="normal" font-style="normal" fill="#000" text-anchor="start" textLength="183" lengthAdjust="spacingAndGlyphs">Non-stop Express</text>
<circle cx="117" cy="1795.5" r="21.3" fill="#fff"/>
<circle cx="117" cy="1795.5" r="20.3" fill="#e25b26"/>
<g transform="translate(117,1795.5) scale(0.84)"><path transform="translate(-8,-15.3)" d="M6.6,0 H13.6 V30.6 H5.2 V10.4 H0 V4.9 H1.6 Q6,4.7 6.6,0 Z" fill="#fff"/></g>
<text transform="translate(174,1807)" font-family='"Liberation Sans", sans-serif' font-size="27.5" font-weight="normal" font-style="normal" fill="#000" text-anchor="start" textLength="102" lengthAdjust="spacingAndGlyphs">Timepoint</text>
<circle cx="117" cy="1838.5" r="10.3" fill="#e25b26"/>
<text transform="translate(174,1847)" font-family='"Liberation Sans", sans-serif' font-size="27.5" font-weight="normal" font-style="normal" fill="#000" text-anchor="start" textLength="92" lengthAdjust="spacingAndGlyphs">Bus Stop</text>
<text transform="translate(174,1871)" font-family='"Liberation Sans", sans-serif' font-size="23.5" font-weight="normal" font-style="normal" fill="#000" text-anchor="start" textLength="199" lengthAdjust="spacingAndGlyphs">(Bus also stops at the</text>
<text transform="translate(174,1894)" font-family='"Liberation Sans", sans-serif' font-size="23.5" font-weight="normal" font-style="normal" fill="#000" text-anchor="start" textLength="202" lengthAdjust="spacingAndGlyphs">numbered timepoints)</text>
<path d="M73,1928 L161,1928" stroke="#8798a4" stroke-width="4.6" fill="none" />
<path d="M73,1928 L161,1928" stroke="#8798a4" stroke-width="15" stroke-dasharray="2.6 12.8" stroke-dashoffset="-5" fill="none" />
<g transform="translate(117,1928) scale(1.15)"><circle r="14.5" fill="#fff" stroke="#000" stroke-width="3"/><path d="M-9.5,-5.3 H9.5 V-0.8 H-9.5 Z M-2.5,-0.8 V12.5 M2.5,-0.8 V12.5" fill="none" stroke="#000" stroke-width="2.6"/></g>
<text transform="translate(174,1938)" font-family='"Liberation Sans", sans-serif' font-size="27.5" font-weight="normal" font-style="normal" fill="#000" text-anchor="start" textLength="170" lengthAdjust="spacingAndGlyphs">T Rail / T Station</text>
<rect x="100.7" y="1957.5" width="32.5" height="32.5" fill="#000"/>
<path d="M107,1963.7 h20 v6.6 h-6.2 v13.6 h-7.6 v-13.6 h-6.2 z" fill="#fff"/>
<path d="M117,1989 L117,2005" stroke="#000" stroke-width="1.6" fill="none"/>
<rect x="94" y="2005" width="46.7" height="28" rx="8" fill="#fff" stroke="#000" stroke-width="1.8"/>
<text transform="translate(117.3,2028.3) scale(0.8,1)" font-family='"Liberation Sans", sans-serif' font-size="25" font-weight="bold" font-style="normal" fill="#000" text-anchor="middle">1, 2</text>
<text transform="translate(174,1984)" font-family='"Liberation Sans", sans-serif' font-size="27.5" font-weight="normal" font-style="normal" fill="#000" text-anchor="start" textLength="143" lengthAdjust="spacingAndGlyphs">Transfer Point</text>
<text transform="translate(174,2030.6)" font-family='"Liberation Sans", sans-serif' font-size="27.5" font-weight="normal" font-style="normal" fill="#000" text-anchor="start" textLength="194" lengthAdjust="spacingAndGlyphs">Connecting Routes</text>
<path d="M117,2047.3 L131.8,2064 L117,2080.7 L102.2,2064 Z" fill="#4cb748"/>
<text transform="translate(174,2076)" font-family='"Liberation Sans", sans-serif' font-size="27.5" font-weight="normal" font-style="normal" fill="#000" text-anchor="start" textLength="211" lengthAdjust="spacingAndGlyphs">MMVTA Sales Outlet</text>
<rect x="106.5" y="2100" width="21.5" height="21.5" fill="#055123"/>
<text transform="translate(174,2121.5)" font-family='"Liberation Sans", sans-serif' font-size="27.5" font-weight="normal" font-style="normal" fill="#000" text-anchor="start" textLength="163" lengthAdjust="spacingAndGlyphs">Point of Interest</text>
<circle cx="117" cy="2156" r="15" fill="#1480c6"/>
<text x="117.7" y="2164.3" font-family='"Liberation Sans", sans-serif' font-size="23.5" font-weight="bold" fill="#fff" stroke="#fff" stroke-width="0.9" text-anchor="middle">P</text>
<text transform="translate(174,2167)" font-family='"Liberation Sans", sans-serif' font-size="27.5" font-weight="normal" font-style="normal" fill="#000" text-anchor="start" textLength="160" lengthAdjust="spacingAndGlyphs">Park &amp; Ride Lot</text>
<text transform="translate(235.5,2200)" font-family='"Liberation Sans", sans-serif' font-size="21.5" font-weight="normal" font-style="normal" fill="#000" text-anchor="middle" textLength="129" lengthAdjust="spacingAndGlyphs">©2013 MMVTA</text>
<text transform="translate(235.5,2224)" font-family='"Liberation Sans", sans-serif' font-size="21.5" font-weight="normal" font-style="normal" fill="#000" text-anchor="middle" textLength="300" lengthAdjust="spacingAndGlyphs">Design by Smartmaps, Knoxville, TN</text>
<text transform="translate(153.7,2728.6)" font-family='"Liberation Sans", sans-serif' font-size="27" font-weight="bold" font-style="normal" fill="#000" text-anchor="middle" textLength="74.5" lengthAdjust="spacingAndGlyphs" stroke="#000" stroke-width="0.4">NORTH</text>
<circle cx="153.7" cy="2786" r="47.5" fill="#fff" stroke="#8a8c8f" stroke-width="4.5"/>
<path d="M153.7,2738.5 L193.5,2812.5 L114,2812.5 Z" fill="#8a8c8f"/>
<text transform="translate(153.4,2806.3) scale(0.8,1)" font-family='"Liberation Sans", sans-serif' font-size="48" font-weight="bold" font-style="normal" fill="#fff" text-anchor="middle">N</text>
<text transform="translate(153,2862.8)" font-family='"Liberation Sans", sans-serif' font-size="26.5" font-weight="bold" font-style="normal" fill="#000" text-anchor="middle" textLength="164" lengthAdjust="spacingAndGlyphs" stroke="#000" stroke-width="0.4">Map not to scale</text>
</svg>
</body></html>
